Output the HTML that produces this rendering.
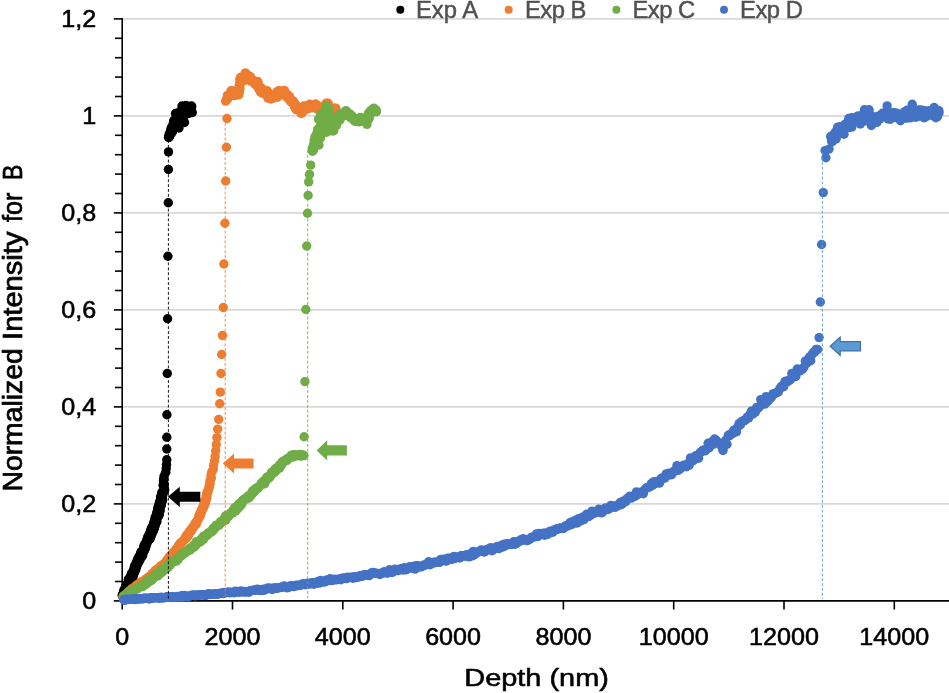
<!DOCTYPE html>
<html><head><meta charset="utf-8"><title>Chart</title>
<style>
html,body{margin:0;padding:0;background:#fff;}
body{width:949px;height:693px;position:relative;overflow:hidden;font-family:"Liberation Sans",sans-serif;}
</style></head><body>
<svg width="949" height="693" viewBox="0 0 949 693" style="position:absolute;left:0;top:0;display:block;opacity:0.999;will-change:transform"><rect width="949" height="693" fill="#fff"/><g stroke="#d9d9d9" stroke-width="1.6"><line x1="122.2" y1="503.9" x2="949" y2="503.9"/><line x1="122.2" y1="406.9" x2="949" y2="406.9"/><line x1="122.2" y1="309.9" x2="949" y2="309.9"/><line x1="122.2" y1="212.9" x2="949" y2="212.9"/><line x1="122.2" y1="115.9" x2="949" y2="115.9"/><line x1="122.2" y1="18.9" x2="949" y2="18.9"/></g><g stroke="#000" stroke-width="1.6"><line x1="122.2" y1="18.1" x2="122.2" y2="601.7"/><line x1="121.4" y1="600.9" x2="949" y2="600.9"/><line x1="113.8" y1="600.9" x2="122.2" y2="600.9"/><line x1="115.0" y1="581.5" x2="122.2" y2="581.5"/><line x1="115.0" y1="562.1" x2="122.2" y2="562.1"/><line x1="115.0" y1="542.7" x2="122.2" y2="542.7"/><line x1="115.0" y1="523.3" x2="122.2" y2="523.3"/><line x1="113.8" y1="503.9" x2="122.2" y2="503.9"/><line x1="115.0" y1="484.5" x2="122.2" y2="484.5"/><line x1="115.0" y1="465.1" x2="122.2" y2="465.1"/><line x1="115.0" y1="445.7" x2="122.2" y2="445.7"/><line x1="115.0" y1="426.3" x2="122.2" y2="426.3"/><line x1="113.8" y1="406.9" x2="122.2" y2="406.9"/><line x1="115.0" y1="387.5" x2="122.2" y2="387.5"/><line x1="115.0" y1="368.1" x2="122.2" y2="368.1"/><line x1="115.0" y1="348.7" x2="122.2" y2="348.7"/><line x1="115.0" y1="329.3" x2="122.2" y2="329.3"/><line x1="113.8" y1="309.9" x2="122.2" y2="309.9"/><line x1="115.0" y1="290.5" x2="122.2" y2="290.5"/><line x1="115.0" y1="271.1" x2="122.2" y2="271.1"/><line x1="115.0" y1="251.7" x2="122.2" y2="251.7"/><line x1="115.0" y1="232.3" x2="122.2" y2="232.3"/><line x1="113.8" y1="212.9" x2="122.2" y2="212.9"/><line x1="115.0" y1="193.5" x2="122.2" y2="193.5"/><line x1="115.0" y1="174.1" x2="122.2" y2="174.1"/><line x1="115.0" y1="154.7" x2="122.2" y2="154.7"/><line x1="115.0" y1="135.3" x2="122.2" y2="135.3"/><line x1="113.8" y1="115.9" x2="122.2" y2="115.9"/><line x1="115.0" y1="96.5" x2="122.2" y2="96.5"/><line x1="115.0" y1="77.1" x2="122.2" y2="77.1"/><line x1="115.0" y1="57.7" x2="122.2" y2="57.7"/><line x1="115.0" y1="38.3" x2="122.2" y2="38.3"/><line x1="113.8" y1="18.9" x2="122.2" y2="18.9"/><line x1="122.2" y1="600.9" x2="122.2" y2="609.5"/><line x1="232.5" y1="600.9" x2="232.5" y2="609.5"/><line x1="342.8" y1="600.9" x2="342.8" y2="609.5"/><line x1="453.1" y1="600.9" x2="453.1" y2="609.5"/><line x1="563.4" y1="600.9" x2="563.4" y2="609.5"/><line x1="673.7" y1="600.9" x2="673.7" y2="609.5"/><line x1="784.0" y1="600.9" x2="784.0" y2="609.5"/><line x1="894.3" y1="600.9" x2="894.3" y2="609.5"/></g><g fill="#000000"><circle cx="123.2" cy="596.5" r="4.7"/><circle cx="123.8" cy="596.0" r="4.7"/><circle cx="123.9" cy="596.2" r="4.7"/><circle cx="122.2" cy="595.2" r="4.7"/><circle cx="123.9" cy="594.4" r="4.7"/><circle cx="124.5" cy="594.4" r="4.7"/><circle cx="122.9" cy="593.9" r="4.7"/><circle cx="124.5" cy="593.2" r="4.7"/><circle cx="125.0" cy="593.5" r="4.7"/><circle cx="124.3" cy="593.2" r="4.7"/><circle cx="124.5" cy="592.3" r="4.7"/><circle cx="125.4" cy="592.7" r="4.7"/><circle cx="125.5" cy="591.2" r="4.7"/><circle cx="123.6" cy="590.9" r="4.7"/><circle cx="125.8" cy="590.4" r="4.7"/><circle cx="125.7" cy="589.7" r="4.7"/><circle cx="125.4" cy="590.0" r="4.7"/><circle cx="126.4" cy="589.9" r="4.7"/><circle cx="125.7" cy="588.4" r="4.7"/><circle cx="126.3" cy="588.9" r="4.7"/><circle cx="126.3" cy="588.5" r="4.7"/><circle cx="125.1" cy="588.3" r="4.7"/><circle cx="125.4" cy="587.3" r="4.7"/><circle cx="125.8" cy="586.4" r="4.7"/><circle cx="127.4" cy="586.9" r="4.7"/><circle cx="127.2" cy="586.8" r="4.7"/><circle cx="128.1" cy="586.3" r="4.7"/><circle cx="127.4" cy="585.9" r="4.7"/><circle cx="126.5" cy="585.0" r="4.7"/><circle cx="128.4" cy="585.0" r="4.7"/><circle cx="129.1" cy="584.3" r="4.7"/><circle cx="126.7" cy="584.2" r="4.7"/><circle cx="129.0" cy="583.5" r="4.7"/><circle cx="129.9" cy="582.5" r="4.7"/><circle cx="128.4" cy="582.3" r="4.7"/><circle cx="129.5" cy="582.7" r="4.7"/><circle cx="129.9" cy="582.0" r="4.7"/><circle cx="129.6" cy="581.4" r="4.7"/><circle cx="128.9" cy="580.6" r="4.7"/><circle cx="128.3" cy="579.9" r="4.7"/><circle cx="128.7" cy="580.0" r="4.7"/><circle cx="128.6" cy="579.4" r="4.7"/><circle cx="129.4" cy="579.4" r="4.7"/><circle cx="130.5" cy="578.9" r="4.7"/><circle cx="129.3" cy="578.4" r="4.7"/><circle cx="130.4" cy="577.9" r="4.7"/><circle cx="130.4" cy="578.4" r="4.7"/><circle cx="132.8" cy="577.4" r="4.7"/><circle cx="130.9" cy="577.6" r="4.7"/><circle cx="130.7" cy="576.5" r="4.7"/><circle cx="131.3" cy="576.1" r="4.7"/><circle cx="131.5" cy="575.4" r="4.7"/><circle cx="133.4" cy="575.5" r="4.7"/><circle cx="131.2" cy="575.4" r="4.7"/><circle cx="131.9" cy="574.0" r="4.7"/><circle cx="131.5" cy="574.4" r="4.7"/><circle cx="131.7" cy="573.1" r="4.7"/><circle cx="132.9" cy="573.0" r="4.7"/><circle cx="134.0" cy="573.0" r="4.7"/><circle cx="133.1" cy="572.9" r="4.7"/><circle cx="134.3" cy="572.7" r="4.7"/><circle cx="133.6" cy="571.6" r="4.7"/><circle cx="134.0" cy="571.6" r="4.7"/><circle cx="135.2" cy="570.6" r="4.7"/><circle cx="135.7" cy="569.8" r="4.7"/><circle cx="133.7" cy="569.9" r="4.7"/><circle cx="135.5" cy="569.6" r="4.7"/><circle cx="134.2" cy="568.4" r="4.7"/><circle cx="134.7" cy="568.0" r="4.7"/><circle cx="135.3" cy="567.8" r="4.7"/><circle cx="136.2" cy="567.6" r="4.7"/><circle cx="135.1" cy="567.2" r="4.7"/><circle cx="134.5" cy="566.6" r="4.7"/><circle cx="134.8" cy="566.1" r="4.7"/><circle cx="136.3" cy="565.8" r="4.7"/><circle cx="135.7" cy="565.3" r="4.7"/><circle cx="136.7" cy="566.0" r="4.7"/><circle cx="136.6" cy="564.7" r="4.7"/><circle cx="135.6" cy="565.0" r="4.7"/><circle cx="135.8" cy="564.6" r="4.7"/><circle cx="137.7" cy="564.1" r="4.7"/><circle cx="136.1" cy="563.9" r="4.7"/><circle cx="138.2" cy="562.8" r="4.7"/><circle cx="136.6" cy="561.9" r="4.7"/><circle cx="138.2" cy="562.3" r="4.7"/><circle cx="137.1" cy="562.2" r="4.7"/><circle cx="139.3" cy="560.9" r="4.7"/><circle cx="138.3" cy="561.4" r="4.7"/><circle cx="138.0" cy="559.9" r="4.7"/><circle cx="137.5" cy="560.4" r="4.7"/><circle cx="137.8" cy="559.3" r="4.7"/><circle cx="140.1" cy="559.8" r="4.7"/><circle cx="138.1" cy="559.4" r="4.7"/><circle cx="140.0" cy="558.4" r="4.7"/><circle cx="138.3" cy="557.7" r="4.7"/><circle cx="140.1" cy="557.5" r="4.7"/><circle cx="140.8" cy="556.5" r="4.7"/><circle cx="139.4" cy="556.5" r="4.7"/><circle cx="140.6" cy="556.1" r="4.7"/><circle cx="139.7" cy="555.8" r="4.7"/><circle cx="142.4" cy="556.0" r="4.7"/><circle cx="140.8" cy="555.1" r="4.7"/><circle cx="140.4" cy="555.3" r="4.7"/><circle cx="142.6" cy="554.9" r="4.7"/><circle cx="142.1" cy="553.4" r="4.7"/><circle cx="140.8" cy="553.7" r="4.7"/><circle cx="142.9" cy="553.6" r="4.7"/><circle cx="140.9" cy="552.9" r="4.7"/><circle cx="141.1" cy="551.9" r="4.7"/><circle cx="141.5" cy="551.7" r="4.7"/><circle cx="143.8" cy="550.9" r="4.7"/><circle cx="143.2" cy="551.6" r="4.7"/><circle cx="144.5" cy="550.2" r="4.7"/><circle cx="143.9" cy="550.7" r="4.7"/><circle cx="143.5" cy="550.4" r="4.7"/><circle cx="143.6" cy="549.4" r="4.7"/><circle cx="143.9" cy="549.2" r="4.7"/><circle cx="144.4" cy="548.5" r="4.7"/><circle cx="145.5" cy="548.0" r="4.7"/><circle cx="144.6" cy="548.1" r="4.7"/><circle cx="145.5" cy="547.3" r="4.7"/><circle cx="144.1" cy="546.6" r="4.7"/><circle cx="143.8" cy="546.6" r="4.7"/><circle cx="145.4" cy="546.5" r="4.7"/><circle cx="144.9" cy="545.7" r="4.7"/><circle cx="146.3" cy="545.3" r="4.7"/><circle cx="144.8" cy="544.8" r="4.7"/><circle cx="144.5" cy="544.9" r="4.7"/><circle cx="146.0" cy="543.6" r="4.7"/><circle cx="146.4" cy="542.9" r="4.7"/><circle cx="146.5" cy="543.3" r="4.7"/><circle cx="146.5" cy="543.4" r="4.7"/><circle cx="147.1" cy="543.0" r="4.7"/><circle cx="146.6" cy="541.9" r="4.7"/><circle cx="146.1" cy="542.1" r="4.7"/><circle cx="146.7" cy="541.0" r="4.7"/><circle cx="146.8" cy="540.9" r="4.7"/><circle cx="147.0" cy="540.0" r="4.7"/><circle cx="148.9" cy="539.5" r="4.7"/><circle cx="147.9" cy="540.0" r="4.7"/><circle cx="148.4" cy="539.7" r="4.7"/><circle cx="149.9" cy="538.9" r="4.7"/><circle cx="147.6" cy="537.6" r="4.7"/><circle cx="148.4" cy="537.9" r="4.7"/><circle cx="150.5" cy="537.6" r="4.7"/><circle cx="148.1" cy="537.5" r="4.7"/><circle cx="150.6" cy="537.0" r="4.7"/><circle cx="148.4" cy="535.7" r="4.7"/><circle cx="150.4" cy="535.3" r="4.7"/><circle cx="149.6" cy="536.0" r="4.7"/><circle cx="151.5" cy="534.8" r="4.7"/><circle cx="149.7" cy="534.9" r="4.7"/><circle cx="149.5" cy="534.5" r="4.7"/><circle cx="151.4" cy="533.7" r="4.7"/><circle cx="152.0" cy="533.7" r="4.7"/><circle cx="149.7" cy="533.1" r="4.7"/><circle cx="151.6" cy="532.9" r="4.7"/><circle cx="152.3" cy="532.0" r="4.7"/><circle cx="151.8" cy="532.2" r="4.7"/><circle cx="150.7" cy="530.8" r="4.7"/><circle cx="151.0" cy="530.4" r="4.7"/><circle cx="153.4" cy="530.2" r="4.7"/><circle cx="153.5" cy="530.6" r="4.7"/><circle cx="153.7" cy="529.5" r="4.7"/><circle cx="151.8" cy="529.4" r="4.7"/><circle cx="151.3" cy="528.4" r="4.7"/><circle cx="152.4" cy="527.6" r="4.7"/><circle cx="152.2" cy="527.9" r="4.7"/><circle cx="154.2" cy="527.8" r="4.7"/><circle cx="154.4" cy="527.5" r="4.7"/><circle cx="154.5" cy="527.3" r="4.7"/><circle cx="153.2" cy="525.8" r="4.7"/><circle cx="154.0" cy="526.2" r="4.7"/><circle cx="153.1" cy="525.8" r="4.7"/><circle cx="153.5" cy="524.8" r="4.7"/><circle cx="155.5" cy="524.8" r="4.7"/><circle cx="154.7" cy="524.8" r="4.7"/><circle cx="154.9" cy="523.1" r="4.7"/><circle cx="155.0" cy="522.8" r="4.7"/><circle cx="153.6" cy="523.5" r="4.7"/><circle cx="156.2" cy="522.0" r="4.7"/><circle cx="154.9" cy="521.7" r="4.7"/><circle cx="154.3" cy="521.1" r="4.7"/><circle cx="155.6" cy="521.2" r="4.7"/><circle cx="156.9" cy="521.5" r="4.7"/><circle cx="155.6" cy="519.8" r="4.7"/><circle cx="155.5" cy="519.7" r="4.7"/><circle cx="156.7" cy="519.0" r="4.7"/><circle cx="155.0" cy="519.6" r="4.7"/><circle cx="155.4" cy="518.5" r="4.7"/><circle cx="155.2" cy="517.7" r="4.7"/><circle cx="156.3" cy="517.2" r="4.7"/><circle cx="156.1" cy="516.9" r="4.7"/><circle cx="155.8" cy="516.3" r="4.7"/><circle cx="156.0" cy="516.7" r="4.7"/><circle cx="157.0" cy="515.9" r="4.7"/><circle cx="158.6" cy="516.0" r="4.7"/><circle cx="158.8" cy="515.6" r="4.7"/><circle cx="158.2" cy="514.1" r="4.7"/><circle cx="157.9" cy="514.5" r="4.7"/><circle cx="159.3" cy="514.2" r="4.7"/><circle cx="157.7" cy="513.6" r="4.7"/><circle cx="156.7" cy="512.9" r="4.7"/><circle cx="158.6" cy="512.3" r="4.7"/><circle cx="157.6" cy="512.1" r="4.7"/><circle cx="157.5" cy="511.3" r="4.7"/><circle cx="160.0" cy="510.8" r="4.7"/><circle cx="158.3" cy="511.4" r="4.7"/><circle cx="158.2" cy="510.3" r="4.7"/><circle cx="159.9" cy="510.5" r="4.7"/><circle cx="159.2" cy="510.1" r="4.7"/><circle cx="157.9" cy="509.0" r="4.7"/><circle cx="158.9" cy="509.2" r="4.7"/><circle cx="158.2" cy="507.9" r="4.7"/><circle cx="158.1" cy="508.2" r="4.7"/><circle cx="158.6" cy="506.8" r="4.7"/><circle cx="158.2" cy="506.9" r="4.7"/><circle cx="159.4" cy="506.7" r="4.7"/><circle cx="160.9" cy="505.7" r="4.7"/><circle cx="160.4" cy="506.3" r="4.7"/><circle cx="158.8" cy="505.4" r="4.7"/><circle cx="160.1" cy="504.9" r="4.7"/><circle cx="161.3" cy="504.9" r="4.7"/><circle cx="160.7" cy="503.8" r="4.7"/><circle cx="161.1" cy="503.5" r="4.7"/><circle cx="161.7" cy="502.7" r="4.7"/><circle cx="161.5" cy="502.6" r="4.7"/><circle cx="159.4" cy="502.3" r="4.7"/><circle cx="159.9" cy="501.6" r="4.7"/><circle cx="160.8" cy="501.6" r="4.7"/><circle cx="162.6" cy="500.2" r="4.7"/><circle cx="161.9" cy="500.0" r="4.7"/><circle cx="161.4" cy="500.4" r="4.7"/><circle cx="160.7" cy="499.6" r="4.7"/><circle cx="162.4" cy="499.3" r="4.7"/><circle cx="161.5" cy="498.3" r="4.7"/><circle cx="161.2" cy="498.3" r="4.7"/><circle cx="162.4" cy="497.5" r="4.7"/><circle cx="160.6" cy="496.7" r="4.7"/><circle cx="162.3" cy="495.8" r="4.7"/><circle cx="162.7" cy="495.5" r="4.7"/><circle cx="161.5" cy="495.0" r="4.7"/><circle cx="162.1" cy="494.5" r="4.7"/><circle cx="161.8" cy="492.5" r="4.7"/><circle cx="164.1" cy="491.6" r="4.7"/><circle cx="164.7" cy="489.9" r="4.7"/><circle cx="163.8" cy="489.0" r="4.7"/><circle cx="164.3" cy="488.1" r="4.7"/><circle cx="163.1" cy="485.3" r="4.7"/><circle cx="164.3" cy="484.1" r="4.7"/><circle cx="163.5" cy="480.7" r="4.7"/><circle cx="163.7" cy="478.6" r="4.7"/><circle cx="164.2" cy="475.7" r="4.7"/><circle cx="165.8" cy="472.3" r="4.7"/><circle cx="166.2" cy="468.5" r="4.7"/><circle cx="166.5" cy="464.5" r="4.7"/><circle cx="166.8" cy="459.7" r="4.7"/><circle cx="166.8" cy="449.0" r="4.7"/><circle cx="166.8" cy="437.2" r="4.7"/><circle cx="166.9" cy="414.7" r="4.7"/><circle cx="167.3" cy="373.5" r="4.7"/><circle cx="167.6" cy="318.8" r="4.7"/><circle cx="167.9" cy="256.3" r="4.7"/><circle cx="168.3" cy="202.7" r="4.7"/><circle cx="168.4" cy="169.5" r="4.7"/><circle cx="168.5" cy="151.9" r="4.7"/><circle cx="168.9" cy="137.5" r="4.7"/><circle cx="168.6" cy="137.3" r="4.7"/><circle cx="169.0" cy="137.0" r="4.7"/><circle cx="169.6" cy="135.9" r="4.7"/><circle cx="169.1" cy="135.3" r="4.7"/><circle cx="170.0" cy="135.5" r="4.7"/><circle cx="169.3" cy="134.0" r="4.7"/><circle cx="170.2" cy="134.4" r="4.7"/><circle cx="170.1" cy="133.3" r="4.7"/><circle cx="170.7" cy="132.4" r="4.7"/><circle cx="170.2" cy="132.8" r="4.7"/><circle cx="171.8" cy="132.7" r="4.7"/><circle cx="171.8" cy="131.8" r="4.7"/><circle cx="170.5" cy="130.8" r="4.7"/><circle cx="172.5" cy="131.5" r="4.7"/><circle cx="171.0" cy="129.3" r="4.7"/><circle cx="171.7" cy="130.5" r="4.7"/><circle cx="171.7" cy="128.9" r="4.7"/><circle cx="172.7" cy="130.4" r="4.7"/><circle cx="171.5" cy="127.3" r="4.7"/><circle cx="172.1" cy="128.1" r="4.7"/><circle cx="173.4" cy="126.9" r="4.7"/><circle cx="174.1" cy="128.3" r="4.7"/><circle cx="173.3" cy="126.0" r="4.7"/><circle cx="175.2" cy="125.9" r="4.7"/><circle cx="174.9" cy="125.1" r="4.7"/><circle cx="172.8" cy="126.7" r="4.7"/><circle cx="173.3" cy="127.1" r="4.7"/><circle cx="174.3" cy="123.5" r="4.7"/><circle cx="173.4" cy="124.0" r="4.7"/><circle cx="175.5" cy="125.9" r="4.7"/><circle cx="173.4" cy="123.0" r="4.7"/><circle cx="174.0" cy="125.3" r="4.7"/><circle cx="173.9" cy="120.5" r="4.7"/><circle cx="173.7" cy="121.7" r="4.7"/><circle cx="178.1" cy="123.7" r="4.7"/><circle cx="177.6" cy="123.9" r="4.7"/><circle cx="179.0" cy="120.0" r="4.7"/><circle cx="175.3" cy="122.8" r="4.7"/><circle cx="178.6" cy="117.5" r="4.7"/><circle cx="178.5" cy="119.0" r="4.7"/><circle cx="177.2" cy="118.3" r="4.7"/><circle cx="176.3" cy="116.0" r="4.7"/><circle cx="177.2" cy="117.5" r="4.7"/><circle cx="181.3" cy="115.8" r="4.7"/><circle cx="181.6" cy="115.9" r="4.7"/><circle cx="178.6" cy="118.9" r="4.7"/><circle cx="181.5" cy="116.4" r="4.7"/><circle cx="177.6" cy="116.3" r="4.7"/><circle cx="179.7" cy="118.4" r="4.7"/><circle cx="179.1" cy="114.9" r="4.7"/><circle cx="183.4" cy="112.7" r="4.7"/><circle cx="181.0" cy="116.7" r="4.7"/><circle cx="183.4" cy="112.0" r="4.7"/><circle cx="179.7" cy="111.8" r="4.7"/><circle cx="185.0" cy="112.5" r="4.7"/><circle cx="184.4" cy="115.7" r="4.7"/><circle cx="182.5" cy="111.9" r="4.7"/><circle cx="186.4" cy="113.6" r="4.7"/><circle cx="182.9" cy="113.8" r="4.7"/><circle cx="183.6" cy="111.0" r="4.7"/><circle cx="182.2" cy="113.4" r="4.7"/><circle cx="187.7" cy="112.5" r="4.7"/><circle cx="188.3" cy="108.7" r="4.7"/><circle cx="184.7" cy="111.0" r="4.7"/><circle cx="189.2" cy="113.3" r="4.7"/><circle cx="186.4" cy="109.1" r="4.7"/><circle cx="187.1" cy="110.3" r="4.7"/><circle cx="190.3" cy="108.3" r="4.7"/><circle cx="190.0" cy="111.3" r="4.7"/><circle cx="190.6" cy="111.3" r="4.7"/><circle cx="189.8" cy="108.6" r="4.7"/><circle cx="188.7" cy="108.6" r="4.7"/><circle cx="191.7" cy="106.8" r="4.7"/><circle cx="188.9" cy="110.4" r="4.7"/><circle cx="189.6" cy="106.4" r="4.7"/><circle cx="184.5" cy="122.5" r="4.7"/><circle cx="179.0" cy="128.0" r="4.7"/><circle cx="182.0" cy="106.0" r="4.7"/><circle cx="191.5" cy="106.0" r="4.7"/><circle cx="192.3" cy="112.5" r="4.7"/><circle cx="186.0" cy="105.5" r="4.7"/><circle cx="175.5" cy="113.5" r="4.7"/></g>
<g fill="#ED7D31"><circle cx="123.3" cy="597.0" r="4.7"/><circle cx="123.2" cy="596.9" r="4.7"/><circle cx="124.5" cy="595.4" r="4.7"/><circle cx="124.6" cy="595.2" r="4.7"/><circle cx="125.7" cy="595.1" r="4.7"/><circle cx="127.6" cy="594.2" r="4.7"/><circle cx="127.8" cy="593.0" r="4.7"/><circle cx="128.5" cy="592.2" r="4.7"/><circle cx="128.3" cy="592.0" r="4.7"/><circle cx="129.7" cy="590.8" r="4.7"/><circle cx="131.2" cy="591.0" r="4.7"/><circle cx="130.8" cy="590.2" r="4.7"/><circle cx="131.8" cy="588.8" r="4.7"/><circle cx="132.5" cy="589.4" r="4.7"/><circle cx="134.0" cy="588.1" r="4.7"/><circle cx="134.8" cy="587.1" r="4.7"/><circle cx="135.0" cy="587.1" r="4.7"/><circle cx="135.6" cy="586.1" r="4.7"/><circle cx="136.3" cy="585.5" r="4.7"/><circle cx="138.1" cy="584.4" r="4.7"/><circle cx="138.1" cy="584.2" r="4.7"/><circle cx="139.6" cy="584.7" r="4.7"/><circle cx="140.6" cy="583.4" r="4.7"/><circle cx="140.5" cy="582.4" r="4.7"/><circle cx="141.8" cy="581.6" r="4.7"/><circle cx="143.0" cy="582.1" r="4.7"/><circle cx="143.9" cy="582.1" r="4.7"/><circle cx="145.0" cy="580.3" r="4.7"/><circle cx="145.7" cy="579.4" r="4.7"/><circle cx="145.9" cy="578.9" r="4.7"/><circle cx="146.6" cy="579.2" r="4.7"/><circle cx="148.3" cy="578.2" r="4.7"/><circle cx="148.8" cy="577.1" r="4.7"/><circle cx="149.3" cy="576.6" r="4.7"/><circle cx="149.2" cy="576.9" r="4.7"/><circle cx="150.7" cy="576.1" r="4.7"/><circle cx="151.9" cy="574.9" r="4.7"/><circle cx="152.3" cy="574.0" r="4.7"/><circle cx="152.2" cy="573.6" r="4.7"/><circle cx="153.1" cy="573.4" r="4.7"/><circle cx="154.7" cy="572.9" r="4.7"/><circle cx="154.6" cy="572.3" r="4.7"/><circle cx="155.2" cy="570.4" r="4.7"/><circle cx="156.7" cy="570.0" r="4.7"/><circle cx="156.9" cy="569.3" r="4.7"/><circle cx="158.1" cy="569.6" r="4.7"/><circle cx="159.4" cy="567.7" r="4.7"/><circle cx="160.2" cy="567.2" r="4.7"/><circle cx="160.8" cy="566.4" r="4.7"/><circle cx="160.4" cy="566.0" r="4.7"/><circle cx="162.3" cy="566.3" r="4.7"/><circle cx="163.2" cy="564.4" r="4.7"/><circle cx="163.3" cy="564.9" r="4.7"/><circle cx="163.5" cy="564.3" r="4.7"/><circle cx="165.1" cy="563.3" r="4.7"/><circle cx="166.0" cy="562.9" r="4.7"/><circle cx="166.8" cy="560.8" r="4.7"/><circle cx="166.8" cy="560.5" r="4.7"/><circle cx="167.5" cy="559.3" r="4.7"/><circle cx="168.6" cy="559.7" r="4.7"/><circle cx="169.1" cy="557.8" r="4.7"/><circle cx="169.5" cy="557.0" r="4.7"/><circle cx="169.5" cy="556.9" r="4.7"/><circle cx="170.2" cy="556.1" r="4.7"/><circle cx="171.4" cy="554.8" r="4.7"/><circle cx="172.0" cy="554.1" r="4.7"/><circle cx="173.1" cy="554.3" r="4.7"/><circle cx="173.3" cy="552.7" r="4.7"/><circle cx="173.2" cy="552.5" r="4.7"/><circle cx="174.5" cy="551.4" r="4.7"/><circle cx="175.1" cy="551.0" r="4.7"/><circle cx="175.7" cy="550.1" r="4.7"/><circle cx="176.6" cy="548.9" r="4.7"/><circle cx="177.2" cy="548.5" r="4.7"/><circle cx="178.2" cy="547.0" r="4.7"/><circle cx="178.7" cy="546.1" r="4.7"/><circle cx="178.2" cy="546.1" r="4.7"/><circle cx="179.9" cy="545.9" r="4.7"/><circle cx="179.5" cy="544.0" r="4.7"/><circle cx="180.8" cy="543.5" r="4.7"/><circle cx="180.9" cy="542.7" r="4.7"/><circle cx="182.5" cy="541.6" r="4.7"/><circle cx="182.5" cy="541.9" r="4.7"/><circle cx="183.7" cy="540.1" r="4.7"/><circle cx="184.4" cy="539.2" r="4.7"/><circle cx="185.2" cy="539.2" r="4.7"/><circle cx="185.8" cy="538.0" r="4.7"/><circle cx="185.7" cy="536.7" r="4.7"/><circle cx="187.1" cy="537.4" r="4.7"/><circle cx="186.5" cy="535.2" r="4.7"/><circle cx="188.1" cy="535.8" r="4.7"/><circle cx="187.6" cy="534.3" r="4.7"/><circle cx="188.9" cy="534.2" r="4.7"/><circle cx="188.9" cy="532.3" r="4.7"/><circle cx="189.8" cy="531.9" r="4.7"/><circle cx="189.9" cy="531.2" r="4.7"/><circle cx="191.4" cy="530.9" r="4.7"/><circle cx="190.9" cy="529.5" r="4.7"/><circle cx="192.2" cy="528.0" r="4.7"/><circle cx="192.7" cy="528.4" r="4.7"/><circle cx="193.3" cy="527.4" r="4.7"/><circle cx="193.2" cy="526.7" r="4.7"/><circle cx="194.9" cy="524.8" r="4.7"/><circle cx="194.9" cy="523.9" r="4.7"/><circle cx="196.2" cy="524.4" r="4.7"/><circle cx="195.9" cy="522.6" r="4.7"/><circle cx="196.4" cy="522.0" r="4.7"/><circle cx="197.0" cy="521.8" r="4.7"/><circle cx="197.7" cy="519.9" r="4.7"/><circle cx="197.7" cy="519.7" r="4.7"/><circle cx="198.9" cy="517.8" r="4.7"/><circle cx="198.9" cy="517.6" r="4.7"/><circle cx="198.8" cy="516.0" r="4.7"/><circle cx="200.3" cy="515.8" r="4.7"/><circle cx="200.0" cy="514.3" r="4.7"/><circle cx="200.9" cy="513.4" r="4.7"/><circle cx="200.2" cy="512.7" r="4.7"/><circle cx="201.6" cy="511.5" r="4.7"/><circle cx="201.4" cy="511.2" r="4.7"/><circle cx="201.6" cy="509.7" r="4.7"/><circle cx="202.0" cy="509.0" r="4.7"/><circle cx="203.0" cy="508.5" r="4.7"/><circle cx="203.8" cy="506.7" r="4.7"/><circle cx="203.0" cy="506.8" r="4.7"/><circle cx="204.3" cy="505.3" r="4.7"/><circle cx="204.7" cy="504.3" r="4.7"/><circle cx="205.1" cy="503.6" r="4.7"/><circle cx="204.0" cy="502.1" r="4.7"/><circle cx="204.2" cy="501.3" r="4.7"/><circle cx="205.8" cy="501.3" r="4.7"/><circle cx="205.5" cy="500.2" r="4.7"/><circle cx="206.6" cy="498.1" r="4.7"/><circle cx="206.6" cy="498.0" r="4.7"/><circle cx="206.4" cy="496.4" r="4.7"/><circle cx="206.4" cy="496.6" r="4.7"/><circle cx="207.0" cy="494.6" r="4.7"/><circle cx="206.6" cy="494.5" r="4.7"/><circle cx="207.0" cy="492.4" r="4.7"/><circle cx="208.1" cy="491.1" r="4.7"/><circle cx="208.2" cy="490.1" r="4.7"/><circle cx="209.0" cy="488.5" r="4.7"/><circle cx="209.1" cy="486.5" r="4.7"/><circle cx="209.7" cy="485.8" r="4.7"/><circle cx="210.0" cy="483.5" r="4.7"/><circle cx="210.0" cy="480.9" r="4.7"/><circle cx="211.3" cy="478.4" r="4.7"/><circle cx="210.9" cy="475.6" r="4.7"/><circle cx="211.8" cy="471.8" r="4.7"/><circle cx="213.3" cy="469.5" r="4.7"/><circle cx="213.6" cy="465.4" r="4.7"/><circle cx="214.6" cy="460.8" r="4.7"/><circle cx="215.1" cy="456.4" r="4.7"/><circle cx="215.7" cy="450.7" r="4.7"/><circle cx="216.3" cy="444.6" r="4.7"/><circle cx="216.9" cy="437.6" r="4.7"/><circle cx="217.7" cy="429.1" r="4.7"/><circle cx="218.7" cy="419.4" r="4.7"/><circle cx="219.7" cy="403.8" r="4.7"/><circle cx="220.3" cy="392.1" r="4.7"/><circle cx="221.0" cy="373.5" r="4.7"/><circle cx="221.7" cy="354.5" r="4.7"/><circle cx="222.5" cy="335.5" r="4.7"/><circle cx="223.3" cy="307.5" r="4.7"/><circle cx="223.9" cy="264.0" r="4.7"/><circle cx="224.9" cy="223.2" r="4.7"/><circle cx="225.7" cy="181.0" r="4.7"/><circle cx="226.4" cy="147.2" r="4.7"/><circle cx="227.0" cy="118.5" r="4.7"/><circle cx="225.6" cy="101.1" r="4.7"/><circle cx="228.1" cy="97.6" r="4.7"/><circle cx="226.5" cy="99.9" r="4.7"/><circle cx="227.5" cy="99.3" r="4.7"/><circle cx="228.4" cy="95.4" r="4.7"/><circle cx="227.4" cy="95.4" r="4.7"/><circle cx="227.0" cy="98.5" r="4.7"/><circle cx="229.0" cy="96.5" r="4.7"/><circle cx="227.9" cy="97.1" r="4.7"/><circle cx="230.5" cy="94.2" r="4.7"/><circle cx="231.2" cy="93.8" r="4.7"/><circle cx="230.8" cy="91.2" r="4.7"/><circle cx="231.6" cy="90.5" r="4.7"/><circle cx="232.6" cy="94.8" r="4.7"/><circle cx="234.3" cy="95.6" r="4.7"/><circle cx="235.1" cy="92.0" r="4.7"/><circle cx="235.5" cy="93.3" r="4.7"/><circle cx="236.9" cy="94.0" r="4.7"/><circle cx="236.4" cy="95.0" r="4.7"/><circle cx="238.9" cy="92.3" r="4.7"/><circle cx="238.9" cy="90.2" r="4.7"/><circle cx="237.5" cy="90.9" r="4.7"/><circle cx="238.9" cy="94.8" r="4.7"/><circle cx="239.0" cy="89.9" r="4.7"/><circle cx="239.5" cy="89.1" r="4.7"/><circle cx="238.1" cy="92.1" r="4.7"/><circle cx="239.2" cy="89.9" r="4.7"/><circle cx="239.5" cy="91.0" r="4.7"/><circle cx="239.2" cy="89.3" r="4.7"/><circle cx="239.9" cy="88.6" r="4.7"/><circle cx="239.4" cy="87.0" r="4.7"/><circle cx="239.9" cy="83.4" r="4.7"/><circle cx="239.3" cy="84.8" r="4.7"/><circle cx="239.3" cy="86.0" r="4.7"/><circle cx="239.8" cy="79.5" r="4.7"/><circle cx="240.0" cy="84.8" r="4.7"/><circle cx="240.9" cy="78.9" r="4.7"/><circle cx="240.4" cy="77.5" r="4.7"/><circle cx="242.3" cy="80.8" r="4.7"/><circle cx="242.7" cy="80.8" r="4.7"/><circle cx="241.5" cy="79.1" r="4.7"/><circle cx="242.8" cy="80.2" r="4.7"/><circle cx="244.5" cy="80.2" r="4.7"/><circle cx="243.4" cy="79.7" r="4.7"/><circle cx="246.0" cy="79.8" r="4.7"/><circle cx="244.7" cy="74.5" r="4.7"/><circle cx="245.4" cy="72.9" r="4.7"/><circle cx="247.8" cy="78.6" r="4.7"/><circle cx="248.0" cy="79.1" r="4.7"/><circle cx="248.6" cy="76.1" r="4.7"/><circle cx="248.0" cy="75.3" r="4.7"/><circle cx="250.3" cy="76.6" r="4.7"/><circle cx="249.9" cy="78.5" r="4.7"/><circle cx="249.9" cy="77.9" r="4.7"/><circle cx="251.2" cy="81.4" r="4.7"/><circle cx="252.1" cy="79.3" r="4.7"/><circle cx="254.2" cy="81.0" r="4.7"/><circle cx="254.6" cy="82.3" r="4.7"/><circle cx="253.3" cy="81.4" r="4.7"/><circle cx="255.0" cy="84.3" r="4.7"/><circle cx="255.4" cy="84.4" r="4.7"/><circle cx="256.4" cy="81.7" r="4.7"/><circle cx="257.7" cy="81.5" r="4.7"/><circle cx="258.1" cy="82.7" r="4.7"/><circle cx="256.7" cy="83.5" r="4.7"/><circle cx="259.0" cy="89.2" r="4.7"/><circle cx="257.7" cy="86.6" r="4.7"/><circle cx="259.4" cy="89.2" r="4.7"/><circle cx="259.2" cy="87.9" r="4.7"/><circle cx="260.1" cy="90.7" r="4.7"/><circle cx="260.5" cy="92.0" r="4.7"/><circle cx="261.2" cy="87.8" r="4.7"/><circle cx="262.8" cy="90.3" r="4.7"/><circle cx="262.0" cy="91.8" r="4.7"/><circle cx="262.5" cy="93.3" r="4.7"/><circle cx="264.6" cy="93.9" r="4.7"/><circle cx="265.0" cy="91.7" r="4.7"/><circle cx="265.1" cy="92.5" r="4.7"/><circle cx="266.8" cy="90.9" r="4.7"/><circle cx="267.4" cy="91.0" r="4.7"/><circle cx="266.4" cy="93.1" r="4.7"/><circle cx="268.6" cy="95.1" r="4.7"/><circle cx="267.9" cy="98.1" r="4.7"/><circle cx="268.2" cy="95.8" r="4.7"/><circle cx="269.5" cy="98.2" r="4.7"/><circle cx="270.6" cy="98.0" r="4.7"/><circle cx="270.5" cy="95.7" r="4.7"/><circle cx="270.8" cy="99.0" r="4.7"/><circle cx="272.8" cy="98.2" r="4.7"/><circle cx="272.5" cy="96.0" r="4.7"/><circle cx="274.7" cy="96.8" r="4.7"/><circle cx="274.0" cy="95.9" r="4.7"/><circle cx="276.6" cy="94.3" r="4.7"/><circle cx="275.6" cy="94.1" r="4.7"/><circle cx="277.4" cy="97.2" r="4.7"/><circle cx="276.7" cy="92.1" r="4.7"/><circle cx="277.5" cy="92.7" r="4.7"/><circle cx="278.8" cy="91.0" r="4.7"/><circle cx="278.9" cy="90.6" r="4.7"/><circle cx="281.0" cy="93.7" r="4.7"/><circle cx="279.5" cy="94.7" r="4.7"/><circle cx="280.3" cy="91.2" r="4.7"/><circle cx="283.1" cy="94.2" r="4.7"/><circle cx="283.2" cy="92.1" r="4.7"/><circle cx="282.6" cy="93.8" r="4.7"/><circle cx="283.1" cy="91.3" r="4.7"/><circle cx="284.5" cy="90.5" r="4.7"/><circle cx="285.2" cy="95.8" r="4.7"/><circle cx="286.7" cy="94.2" r="4.7"/><circle cx="287.0" cy="94.6" r="4.7"/><circle cx="286.4" cy="96.1" r="4.7"/><circle cx="287.5" cy="97.7" r="4.7"/><circle cx="289.3" cy="96.2" r="4.7"/><circle cx="289.0" cy="99.0" r="4.7"/><circle cx="289.1" cy="96.1" r="4.7"/><circle cx="290.4" cy="101.1" r="4.7"/><circle cx="291.0" cy="100.5" r="4.7"/><circle cx="291.7" cy="101.0" r="4.7"/><circle cx="291.7" cy="100.1" r="4.7"/><circle cx="291.4" cy="101.9" r="4.7"/><circle cx="291.3" cy="101.1" r="4.7"/><circle cx="293.5" cy="103.7" r="4.7"/><circle cx="293.6" cy="101.3" r="4.7"/><circle cx="293.5" cy="103.2" r="4.7"/><circle cx="294.5" cy="103.5" r="4.7"/><circle cx="295.1" cy="107.6" r="4.7"/><circle cx="294.4" cy="106.4" r="4.7"/><circle cx="296.3" cy="105.3" r="4.7"/><circle cx="296.2" cy="109.6" r="4.7"/><circle cx="295.8" cy="107.3" r="4.7"/><circle cx="296.7" cy="109.4" r="4.7"/><circle cx="299.2" cy="108.1" r="4.7"/><circle cx="297.8" cy="109.0" r="4.7"/><circle cx="299.5" cy="110.4" r="4.7"/><circle cx="300.1" cy="110.4" r="4.7"/><circle cx="301.5" cy="110.1" r="4.7"/><circle cx="301.1" cy="113.5" r="4.7"/><circle cx="301.3" cy="111.3" r="4.7"/><circle cx="302.5" cy="111.5" r="4.7"/><circle cx="302.5" cy="112.5" r="4.7"/><circle cx="303.8" cy="106.0" r="4.7"/><circle cx="304.3" cy="107.9" r="4.7"/><circle cx="304.4" cy="107.6" r="4.7"/><circle cx="306.1" cy="109.1" r="4.7"/><circle cx="306.6" cy="105.9" r="4.7"/><circle cx="307.1" cy="108.7" r="4.7"/><circle cx="309.5" cy="106.9" r="4.7"/><circle cx="308.5" cy="108.4" r="4.7"/><circle cx="309.6" cy="104.2" r="4.7"/><circle cx="309.7" cy="107.6" r="4.7"/><circle cx="312.0" cy="106.3" r="4.7"/><circle cx="311.9" cy="105.5" r="4.7"/><circle cx="312.0" cy="107.9" r="4.7"/><circle cx="313.1" cy="106.1" r="4.7"/><circle cx="314.9" cy="107.7" r="4.7"/><circle cx="314.8" cy="104.7" r="4.7"/><circle cx="315.7" cy="104.0" r="4.7"/><circle cx="317.1" cy="106.0" r="4.7"/><circle cx="317.8" cy="105.8" r="4.7"/><circle cx="317.4" cy="106.1" r="4.7"/><circle cx="318.2" cy="106.1" r="4.7"/><circle cx="318.0" cy="109.8" r="4.7"/><circle cx="319.5" cy="106.8" r="4.7"/><circle cx="320.3" cy="108.5" r="4.7"/><circle cx="321.4" cy="109.6" r="4.7"/><circle cx="322.8" cy="108.0" r="4.7"/><circle cx="324.2" cy="111.3" r="4.7"/><circle cx="322.7" cy="110.7" r="4.7"/><circle cx="325.3" cy="109.9" r="4.7"/><circle cx="324.1" cy="109.7" r="4.7"/><circle cx="325.9" cy="103.8" r="4.7"/><circle cx="325.0" cy="109.5" r="4.7"/><circle cx="327.1" cy="104.4" r="4.7"/><circle cx="326.4" cy="103.1" r="4.7"/><circle cx="327.3" cy="106.8" r="4.7"/><circle cx="328.2" cy="103.2" r="4.7"/><circle cx="330.2" cy="107.9" r="4.7"/><circle cx="329.1" cy="109.0" r="4.7"/><circle cx="330.8" cy="108.8" r="4.7"/><circle cx="331.7" cy="110.0" r="4.7"/><circle cx="332.6" cy="110.2" r="4.7"/><circle cx="331.9" cy="109.7" r="4.7"/><circle cx="333.3" cy="110.5" r="4.7"/><circle cx="333.7" cy="112.0" r="4.7"/><circle cx="334.6" cy="108.4" r="4.7"/><circle cx="334.5" cy="108.1" r="4.7"/><circle cx="335.8" cy="108.1" r="4.7"/><circle cx="336.4" cy="111.5" r="4.7"/></g>
<g fill="#70AD47"><circle cx="123.2" cy="596.4" r="4.7"/><circle cx="124.0" cy="596.5" r="4.7"/><circle cx="124.8" cy="596.7" r="4.7"/><circle cx="124.0" cy="595.9" r="4.7"/><circle cx="125.9" cy="594.4" r="4.7"/><circle cx="127.2" cy="594.6" r="4.7"/><circle cx="127.3" cy="593.0" r="4.7"/><circle cx="129.6" cy="591.7" r="4.7"/><circle cx="129.6" cy="592.6" r="4.7"/><circle cx="128.8" cy="592.1" r="4.7"/><circle cx="131.3" cy="592.5" r="4.7"/><circle cx="131.3" cy="592.2" r="4.7"/><circle cx="132.7" cy="590.4" r="4.7"/><circle cx="134.5" cy="588.8" r="4.7"/><circle cx="134.9" cy="589.9" r="4.7"/><circle cx="134.8" cy="590.0" r="4.7"/><circle cx="135.8" cy="588.6" r="4.7"/><circle cx="137.1" cy="588.9" r="4.7"/><circle cx="137.1" cy="587.6" r="4.7"/><circle cx="138.6" cy="587.4" r="4.7"/><circle cx="140.5" cy="586.3" r="4.7"/><circle cx="141.5" cy="586.1" r="4.7"/><circle cx="141.5" cy="585.4" r="4.7"/><circle cx="142.4" cy="586.7" r="4.7"/><circle cx="143.7" cy="585.8" r="4.7"/><circle cx="143.8" cy="584.1" r="4.7"/><circle cx="144.5" cy="584.2" r="4.7"/><circle cx="146.1" cy="584.1" r="4.7"/><circle cx="145.4" cy="583.4" r="4.7"/><circle cx="148.4" cy="582.3" r="4.7"/><circle cx="147.0" cy="581.1" r="4.7"/><circle cx="147.7" cy="580.2" r="4.7"/><circle cx="150.8" cy="580.7" r="4.7"/><circle cx="150.9" cy="580.5" r="4.7"/><circle cx="152.4" cy="579.5" r="4.7"/><circle cx="152.4" cy="578.9" r="4.7"/><circle cx="153.4" cy="578.2" r="4.7"/><circle cx="154.2" cy="576.6" r="4.7"/><circle cx="154.9" cy="576.6" r="4.7"/><circle cx="155.9" cy="575.1" r="4.7"/><circle cx="155.2" cy="574.3" r="4.7"/><circle cx="157.6" cy="576.0" r="4.7"/><circle cx="158.0" cy="574.0" r="4.7"/><circle cx="159.3" cy="574.5" r="4.7"/><circle cx="159.4" cy="572.5" r="4.7"/><circle cx="159.5" cy="572.3" r="4.7"/><circle cx="160.3" cy="571.8" r="4.7"/><circle cx="162.0" cy="572.5" r="4.7"/><circle cx="161.2" cy="570.9" r="4.7"/><circle cx="162.0" cy="569.1" r="4.7"/><circle cx="164.8" cy="569.7" r="4.7"/><circle cx="165.8" cy="568.8" r="4.7"/><circle cx="164.3" cy="568.0" r="4.7"/><circle cx="166.6" cy="568.8" r="4.7"/><circle cx="168.4" cy="567.0" r="4.7"/><circle cx="167.7" cy="565.5" r="4.7"/><circle cx="169.1" cy="565.2" r="4.7"/><circle cx="168.6" cy="564.0" r="4.7"/><circle cx="169.0" cy="565.1" r="4.7"/><circle cx="170.1" cy="565.2" r="4.7"/><circle cx="170.8" cy="564.3" r="4.7"/><circle cx="171.7" cy="561.4" r="4.7"/><circle cx="174.0" cy="561.4" r="4.7"/><circle cx="174.8" cy="560.6" r="4.7"/><circle cx="173.8" cy="561.5" r="4.7"/><circle cx="176.3" cy="561.1" r="4.7"/><circle cx="177.1" cy="558.4" r="4.7"/><circle cx="177.7" cy="559.4" r="4.7"/><circle cx="178.0" cy="559.4" r="4.7"/><circle cx="178.3" cy="558.8" r="4.7"/><circle cx="180.3" cy="555.7" r="4.7"/><circle cx="179.2" cy="556.7" r="4.7"/><circle cx="182.1" cy="554.6" r="4.7"/><circle cx="181.6" cy="555.6" r="4.7"/><circle cx="182.0" cy="555.3" r="4.7"/><circle cx="183.6" cy="552.6" r="4.7"/><circle cx="184.1" cy="553.3" r="4.7"/><circle cx="185.0" cy="552.9" r="4.7"/><circle cx="185.0" cy="552.6" r="4.7"/><circle cx="186.4" cy="551.6" r="4.7"/><circle cx="187.9" cy="550.3" r="4.7"/><circle cx="188.0" cy="550.7" r="4.7"/><circle cx="190.3" cy="550.0" r="4.7"/><circle cx="190.1" cy="548.1" r="4.7"/><circle cx="189.5" cy="549.2" r="4.7"/><circle cx="192.0" cy="548.2" r="4.7"/><circle cx="191.8" cy="547.0" r="4.7"/><circle cx="194.3" cy="546.9" r="4.7"/><circle cx="194.1" cy="544.9" r="4.7"/><circle cx="194.4" cy="545.8" r="4.7"/><circle cx="195.1" cy="544.6" r="4.7"/><circle cx="196.4" cy="544.6" r="4.7"/><circle cx="197.7" cy="542.3" r="4.7"/><circle cx="196.4" cy="541.6" r="4.7"/><circle cx="198.3" cy="541.8" r="4.7"/><circle cx="200.1" cy="542.0" r="4.7"/><circle cx="198.8" cy="541.2" r="4.7"/><circle cx="201.6" cy="540.7" r="4.7"/><circle cx="201.8" cy="538.5" r="4.7"/><circle cx="203.3" cy="539.2" r="4.7"/><circle cx="203.6" cy="538.9" r="4.7"/><circle cx="203.5" cy="536.1" r="4.7"/><circle cx="204.8" cy="537.3" r="4.7"/><circle cx="204.7" cy="536.6" r="4.7"/><circle cx="207.3" cy="534.6" r="4.7"/><circle cx="207.3" cy="535.1" r="4.7"/><circle cx="207.7" cy="533.2" r="4.7"/><circle cx="207.9" cy="534.0" r="4.7"/><circle cx="210.1" cy="532.6" r="4.7"/><circle cx="209.0" cy="532.9" r="4.7"/><circle cx="211.6" cy="530.8" r="4.7"/><circle cx="211.9" cy="531.8" r="4.7"/><circle cx="213.4" cy="530.2" r="4.7"/><circle cx="213.1" cy="529.8" r="4.7"/><circle cx="213.2" cy="528.1" r="4.7"/><circle cx="213.9" cy="528.8" r="4.7"/><circle cx="215.2" cy="527.8" r="4.7"/><circle cx="216.0" cy="527.0" r="4.7"/><circle cx="216.1" cy="525.1" r="4.7"/><circle cx="219.1" cy="525.3" r="4.7"/><circle cx="217.5" cy="525.3" r="4.7"/><circle cx="220.0" cy="523.3" r="4.7"/><circle cx="220.2" cy="523.1" r="4.7"/><circle cx="220.7" cy="521.6" r="4.7"/><circle cx="220.2" cy="523.4" r="4.7"/><circle cx="223.1" cy="521.4" r="4.7"/><circle cx="223.1" cy="520.1" r="4.7"/><circle cx="224.3" cy="519.8" r="4.7"/><circle cx="225.5" cy="520.0" r="4.7"/><circle cx="225.9" cy="519.9" r="4.7"/><circle cx="225.2" cy="516.8" r="4.7"/><circle cx="225.8" cy="516.4" r="4.7"/><circle cx="226.2" cy="515.4" r="4.7"/><circle cx="228.2" cy="516.8" r="4.7"/><circle cx="228.6" cy="516.3" r="4.7"/><circle cx="230.5" cy="513.3" r="4.7"/><circle cx="230.5" cy="513.5" r="4.7"/><circle cx="230.0" cy="514.3" r="4.7"/><circle cx="231.0" cy="512.6" r="4.7"/><circle cx="232.8" cy="512.9" r="4.7"/><circle cx="233.6" cy="510.7" r="4.7"/><circle cx="233.7" cy="509.4" r="4.7"/><circle cx="235.8" cy="510.9" r="4.7"/><circle cx="234.6" cy="507.7" r="4.7"/><circle cx="235.4" cy="507.9" r="4.7"/><circle cx="237.8" cy="508.6" r="4.7"/><circle cx="238.4" cy="505.7" r="4.7"/><circle cx="238.9" cy="506.8" r="4.7"/><circle cx="239.3" cy="506.8" r="4.7"/><circle cx="238.5" cy="504.0" r="4.7"/><circle cx="241.0" cy="505.3" r="4.7"/><circle cx="241.5" cy="503.0" r="4.7"/><circle cx="242.0" cy="503.5" r="4.7"/><circle cx="241.5" cy="501.7" r="4.7"/><circle cx="242.6" cy="500.5" r="4.7"/><circle cx="243.9" cy="500.0" r="4.7"/><circle cx="244.0" cy="499.2" r="4.7"/><circle cx="245.9" cy="498.2" r="4.7"/><circle cx="246.7" cy="498.0" r="4.7"/><circle cx="245.6" cy="499.2" r="4.7"/><circle cx="246.8" cy="498.6" r="4.7"/><circle cx="249.2" cy="497.8" r="4.7"/><circle cx="248.1" cy="496.0" r="4.7"/><circle cx="248.7" cy="496.5" r="4.7"/><circle cx="251.3" cy="495.1" r="4.7"/><circle cx="251.1" cy="493.7" r="4.7"/><circle cx="252.7" cy="493.3" r="4.7"/><circle cx="253.0" cy="491.8" r="4.7"/><circle cx="252.6" cy="490.9" r="4.7"/><circle cx="254.6" cy="491.5" r="4.7"/><circle cx="253.9" cy="491.6" r="4.7"/><circle cx="254.9" cy="489.8" r="4.7"/><circle cx="255.4" cy="488.7" r="4.7"/><circle cx="257.9" cy="488.2" r="4.7"/><circle cx="256.8" cy="487.9" r="4.7"/><circle cx="258.0" cy="488.3" r="4.7"/><circle cx="258.1" cy="487.8" r="4.7"/><circle cx="258.7" cy="486.9" r="4.7"/><circle cx="261.0" cy="484.4" r="4.7"/><circle cx="261.3" cy="484.0" r="4.7"/><circle cx="261.4" cy="483.1" r="4.7"/><circle cx="262.4" cy="484.4" r="4.7"/><circle cx="264.8" cy="483.6" r="4.7"/><circle cx="263.2" cy="481.2" r="4.7"/><circle cx="266.0" cy="479.9" r="4.7"/><circle cx="266.3" cy="479.9" r="4.7"/><circle cx="267.6" cy="478.5" r="4.7"/><circle cx="267.9" cy="478.6" r="4.7"/><circle cx="266.9" cy="477.1" r="4.7"/><circle cx="269.4" cy="477.8" r="4.7"/><circle cx="268.5" cy="476.8" r="4.7"/><circle cx="271.0" cy="475.6" r="4.7"/><circle cx="270.8" cy="474.6" r="4.7"/><circle cx="270.5" cy="475.6" r="4.7"/><circle cx="272.5" cy="473.4" r="4.7"/><circle cx="271.6" cy="472.4" r="4.7"/><circle cx="273.6" cy="472.7" r="4.7"/><circle cx="273.4" cy="471.3" r="4.7"/><circle cx="274.9" cy="471.9" r="4.7"/><circle cx="276.1" cy="470.8" r="4.7"/><circle cx="275.2" cy="468.8" r="4.7"/><circle cx="277.3" cy="469.0" r="4.7"/><circle cx="277.9" cy="467.4" r="4.7"/><circle cx="278.8" cy="467.4" r="4.7"/><circle cx="279.6" cy="468.0" r="4.7"/><circle cx="279.4" cy="465.0" r="4.7"/><circle cx="281.2" cy="465.5" r="4.7"/><circle cx="281.8" cy="464.2" r="4.7"/><circle cx="280.8" cy="464.9" r="4.7"/><circle cx="281.9" cy="462.4" r="4.7"/><circle cx="282.7" cy="462.7" r="4.7"/><circle cx="282.5" cy="461.8" r="4.7"/><circle cx="284.5" cy="461.1" r="4.7"/><circle cx="284.4" cy="460.8" r="4.7"/><circle cx="287.0" cy="460.5" r="4.7"/><circle cx="286.5" cy="459.3" r="4.7"/><circle cx="287.5" cy="459.0" r="4.7"/><circle cx="287.5" cy="458.9" r="4.7"/><circle cx="290.6" cy="457.5" r="4.7"/><circle cx="290.2" cy="457.1" r="4.7"/><circle cx="291.1" cy="455.4" r="4.7"/><circle cx="293.2" cy="455.7" r="4.7"/><circle cx="292.2" cy="455.2" r="4.7"/><circle cx="293.4" cy="456.9" r="4.7"/><circle cx="293.8" cy="454.8" r="4.7"/><circle cx="296.5" cy="454.9" r="4.7"/><circle cx="295.7" cy="455.8" r="4.7"/><circle cx="298.2" cy="455.6" r="4.7"/><circle cx="299.5" cy="454.5" r="4.7"/><circle cx="300.9" cy="456.1" r="4.7"/><circle cx="299.8" cy="454.6" r="4.7"/><circle cx="301.9" cy="455.6" r="4.7"/><circle cx="302.3" cy="454.6" r="4.7"/><circle cx="303.9" cy="455.6" r="4.7"/><circle cx="304.1" cy="436.8" r="4.7"/><circle cx="304.9" cy="381.6" r="4.7"/><circle cx="305.8" cy="309.5" r="4.7"/><circle cx="306.7" cy="246.0" r="4.7"/><circle cx="307.5" cy="213.3" r="4.7"/><circle cx="308.1" cy="195.4" r="4.7"/><circle cx="308.7" cy="181.9" r="4.7"/><circle cx="309.5" cy="174.4" r="4.7"/><circle cx="310.7" cy="165.1" r="4.7"/><circle cx="312.4" cy="151.3" r="4.7"/><circle cx="313.0" cy="147.8" r="4.7"/><circle cx="312.5" cy="148.5" r="4.7"/><circle cx="313.1" cy="150.7" r="4.7"/><circle cx="312.3" cy="148.4" r="4.7"/><circle cx="313.9" cy="145.6" r="4.7"/><circle cx="314.3" cy="148.0" r="4.7"/><circle cx="313.5" cy="144.7" r="4.7"/><circle cx="314.8" cy="144.1" r="4.7"/><circle cx="314.0" cy="144.9" r="4.7"/><circle cx="315.2" cy="141.2" r="4.7"/><circle cx="314.2" cy="140.2" r="4.7"/><circle cx="314.9" cy="142.0" r="4.7"/><circle cx="316.1" cy="140.6" r="4.7"/><circle cx="316.4" cy="139.3" r="4.7"/><circle cx="315.0" cy="136.9" r="4.7"/><circle cx="317.6" cy="137.8" r="4.7"/><circle cx="316.4" cy="134.6" r="4.7"/><circle cx="317.8" cy="133.4" r="4.7"/><circle cx="318.0" cy="131.2" r="4.7"/><circle cx="318.2" cy="132.1" r="4.7"/><circle cx="317.6" cy="129.6" r="4.7"/><circle cx="320.3" cy="131.4" r="4.7"/><circle cx="320.5" cy="129.8" r="4.7"/><circle cx="320.6" cy="130.0" r="4.7"/><circle cx="321.1" cy="125.3" r="4.7"/><circle cx="320.9" cy="125.4" r="4.7"/><circle cx="321.4" cy="124.5" r="4.7"/><circle cx="321.4" cy="126.4" r="4.7"/><circle cx="321.9" cy="122.5" r="4.7"/><circle cx="322.0" cy="122.3" r="4.7"/><circle cx="323.4" cy="120.7" r="4.7"/><circle cx="322.2" cy="121.3" r="4.7"/><circle cx="322.1" cy="120.2" r="4.7"/><circle cx="324.5" cy="118.9" r="4.7"/><circle cx="323.2" cy="117.7" r="4.7"/><circle cx="324.2" cy="115.4" r="4.7"/><circle cx="323.5" cy="114.3" r="4.7"/><circle cx="324.1" cy="114.5" r="4.7"/><circle cx="324.4" cy="112.8" r="4.7"/><circle cx="324.2" cy="113.1" r="4.7"/><circle cx="326.2" cy="112.4" r="4.7"/><circle cx="325.9" cy="111.6" r="4.7"/><circle cx="325.2" cy="110.9" r="4.7"/><circle cx="326.1" cy="109.2" r="4.7"/><circle cx="326.7" cy="107.8" r="4.7"/><circle cx="326.3" cy="105.9" r="4.7"/><circle cx="326.3" cy="106.1" r="4.7"/><circle cx="326.9" cy="107.4" r="4.7"/><circle cx="326.3" cy="107.4" r="4.7"/><circle cx="328.5" cy="107.8" r="4.7"/><circle cx="328.0" cy="110.0" r="4.7"/><circle cx="327.5" cy="113.1" r="4.7"/><circle cx="327.8" cy="113.2" r="4.7"/><circle cx="327.7" cy="111.1" r="4.7"/><circle cx="329.6" cy="113.7" r="4.7"/><circle cx="327.8" cy="114.5" r="4.7"/><circle cx="329.0" cy="117.0" r="4.7"/><circle cx="328.4" cy="115.8" r="4.7"/><circle cx="330.6" cy="119.1" r="4.7"/><circle cx="328.9" cy="118.3" r="4.7"/><circle cx="329.5" cy="120.8" r="4.7"/><circle cx="330.4" cy="122.5" r="4.7"/><circle cx="331.1" cy="122.1" r="4.7"/><circle cx="331.1" cy="124.1" r="4.7"/><circle cx="331.4" cy="123.9" r="4.7"/><circle cx="331.8" cy="125.9" r="4.7"/><circle cx="332.4" cy="124.4" r="4.7"/><circle cx="332.6" cy="124.8" r="4.7"/><circle cx="332.6" cy="128.4" r="4.7"/><circle cx="332.3" cy="131.0" r="4.7"/><circle cx="332.8" cy="129.6" r="4.7"/><circle cx="333.8" cy="130.7" r="4.7"/><circle cx="333.8" cy="127.6" r="4.7"/><circle cx="333.9" cy="127.0" r="4.7"/><circle cx="335.0" cy="125.4" r="4.7"/><circle cx="334.7" cy="125.6" r="4.7"/><circle cx="335.2" cy="123.7" r="4.7"/><circle cx="336.6" cy="125.1" r="4.7"/><circle cx="336.4" cy="122.4" r="4.7"/><circle cx="336.2" cy="120.9" r="4.7"/><circle cx="336.6" cy="121.4" r="4.7"/><circle cx="338.2" cy="118.4" r="4.7"/><circle cx="339.5" cy="118.7" r="4.7"/><circle cx="339.9" cy="120.1" r="4.7"/><circle cx="340.7" cy="116.6" r="4.7"/><circle cx="340.0" cy="118.9" r="4.7"/><circle cx="339.5" cy="114.3" r="4.7"/><circle cx="341.4" cy="115.5" r="4.7"/><circle cx="342.9" cy="116.0" r="4.7"/><circle cx="342.6" cy="116.3" r="4.7"/><circle cx="343.3" cy="113.6" r="4.7"/><circle cx="344.3" cy="112.3" r="4.7"/><circle cx="344.2" cy="112.6" r="4.7"/><circle cx="344.9" cy="113.4" r="4.7"/><circle cx="346.3" cy="110.9" r="4.7"/><circle cx="345.5" cy="111.0" r="4.7"/><circle cx="346.9" cy="112.6" r="4.7"/><circle cx="347.9" cy="114.8" r="4.7"/><circle cx="349.4" cy="113.8" r="4.7"/><circle cx="348.8" cy="115.2" r="4.7"/><circle cx="350.7" cy="114.7" r="4.7"/><circle cx="350.2" cy="117.5" r="4.7"/><circle cx="349.9" cy="116.1" r="4.7"/><circle cx="352.7" cy="118.9" r="4.7"/><circle cx="352.4" cy="116.3" r="4.7"/><circle cx="354.1" cy="119.4" r="4.7"/><circle cx="354.7" cy="121.2" r="4.7"/><circle cx="355.7" cy="119.3" r="4.7"/><circle cx="354.8" cy="119.2" r="4.7"/><circle cx="356.4" cy="120.7" r="4.7"/><circle cx="356.6" cy="119.0" r="4.7"/><circle cx="358.6" cy="120.5" r="4.7"/><circle cx="358.9" cy="121.9" r="4.7"/><circle cx="360.5" cy="117.4" r="4.7"/><circle cx="360.9" cy="120.4" r="4.7"/><circle cx="361.6" cy="119.6" r="4.7"/><circle cx="361.7" cy="118.5" r="4.7"/><circle cx="364.5" cy="120.3" r="4.7"/><circle cx="364.9" cy="119.2" r="4.7"/><circle cx="365.2" cy="121.3" r="4.7"/><circle cx="365.5" cy="122.3" r="4.7"/><circle cx="366.9" cy="124.4" r="4.7"/><circle cx="367.3" cy="120.9" r="4.7"/><circle cx="366.6" cy="118.9" r="4.7"/><circle cx="368.5" cy="117.8" r="4.7"/><circle cx="367.2" cy="117.2" r="4.7"/><circle cx="368.6" cy="119.1" r="4.7"/><circle cx="369.2" cy="118.1" r="4.7"/><circle cx="368.2" cy="113.8" r="4.7"/><circle cx="370.2" cy="114.2" r="4.7"/><circle cx="370.4" cy="113.5" r="4.7"/><circle cx="369.4" cy="112.2" r="4.7"/><circle cx="369.6" cy="114.2" r="4.7"/><circle cx="371.1" cy="110.9" r="4.7"/><circle cx="371.1" cy="110.2" r="4.7"/><circle cx="370.4" cy="111.5" r="4.7"/><circle cx="372.7" cy="111.9" r="4.7"/><circle cx="373.3" cy="110.5" r="4.7"/><circle cx="373.8" cy="108.1" r="4.7"/><circle cx="376.4" cy="111.8" r="4.7"/><circle cx="376.3" cy="110.3" r="4.7"/><circle cx="322.0" cy="131.1" r="4.7"/><circle cx="330.1" cy="119.8" r="4.7"/><circle cx="326.6" cy="132.2" r="4.7"/><circle cx="324.9" cy="132.0" r="4.7"/><circle cx="320.9" cy="121.4" r="4.7"/><circle cx="328.5" cy="118.2" r="4.7"/><circle cx="321.9" cy="130.6" r="4.7"/><circle cx="324.8" cy="129.1" r="4.7"/><circle cx="320.9" cy="117.3" r="4.7"/><circle cx="322.7" cy="117.5" r="4.7"/><circle cx="332.5" cy="119.5" r="4.7"/><circle cx="326.0" cy="116.2" r="4.7"/><circle cx="325.5" cy="121.3" r="4.7"/><circle cx="323.5" cy="115.2" r="4.7"/><circle cx="319.0" cy="129.7" r="4.7"/><circle cx="322.6" cy="118.7" r="4.7"/><circle cx="320.1" cy="119.4" r="4.7"/><circle cx="320.8" cy="114.7" r="4.7"/><circle cx="327.6" cy="120.5" r="4.7"/><circle cx="319.5" cy="127.4" r="4.7"/><circle cx="318.5" cy="119.1" r="4.7"/><circle cx="330.4" cy="116.4" r="4.7"/><circle cx="324.1" cy="129.9" r="4.7"/><circle cx="329.9" cy="117.0" r="4.7"/><circle cx="322.6" cy="127.7" r="4.7"/><circle cx="323.0" cy="132.2" r="4.7"/><circle cx="316.5" cy="140.5" r="4.7"/><circle cx="320.5" cy="138.0" r="4.7"/><circle cx="319.0" cy="145.0" r="4.7"/></g>
<g fill="#4472C4"><circle cx="123.5" cy="599.8" r="4.7"/><circle cx="124.8" cy="600.4" r="4.7"/><circle cx="126.2" cy="599.2" r="4.7"/><circle cx="127.5" cy="599.4" r="4.7"/><circle cx="128.9" cy="599.2" r="4.7"/><circle cx="130.2" cy="599.4" r="4.7"/><circle cx="131.6" cy="599.2" r="4.7"/><circle cx="132.9" cy="598.9" r="4.7"/><circle cx="134.3" cy="599.6" r="4.7"/><circle cx="135.6" cy="598.8" r="4.7"/><circle cx="137.0" cy="598.8" r="4.7"/><circle cx="138.3" cy="599.2" r="4.7"/><circle cx="139.7" cy="598.7" r="4.7"/><circle cx="141.0" cy="598.7" r="4.7"/><circle cx="142.4" cy="598.9" r="4.7"/><circle cx="143.7" cy="598.5" r="4.7"/><circle cx="145.1" cy="598.0" r="4.7"/><circle cx="146.4" cy="598.4" r="4.7"/><circle cx="147.8" cy="598.3" r="4.7"/><circle cx="149.1" cy="599.0" r="4.7"/><circle cx="150.5" cy="597.7" r="4.7"/><circle cx="151.8" cy="598.5" r="4.7"/><circle cx="153.2" cy="597.7" r="4.7"/><circle cx="154.5" cy="597.8" r="4.7"/><circle cx="155.9" cy="597.7" r="4.7"/><circle cx="157.2" cy="597.9" r="4.7"/><circle cx="158.6" cy="598.0" r="4.7"/><circle cx="159.9" cy="598.3" r="4.7"/><circle cx="161.3" cy="597.2" r="4.7"/><circle cx="162.6" cy="598.0" r="4.7"/><circle cx="164.0" cy="597.7" r="4.7"/><circle cx="165.3" cy="597.6" r="4.7"/><circle cx="166.7" cy="596.8" r="4.7"/><circle cx="168.0" cy="597.4" r="4.7"/><circle cx="169.4" cy="596.9" r="4.7"/><circle cx="170.7" cy="597.0" r="4.7"/><circle cx="172.1" cy="596.7" r="4.7"/><circle cx="173.4" cy="597.0" r="4.7"/><circle cx="174.8" cy="597.2" r="4.7"/><circle cx="176.1" cy="597.1" r="4.7"/><circle cx="177.5" cy="596.4" r="4.7"/><circle cx="178.8" cy="596.9" r="4.7"/><circle cx="180.2" cy="597.0" r="4.7"/><circle cx="181.5" cy="595.8" r="4.7"/><circle cx="182.9" cy="596.9" r="4.7"/><circle cx="184.2" cy="595.5" r="4.7"/><circle cx="185.6" cy="596.3" r="4.7"/><circle cx="186.9" cy="596.2" r="4.7"/><circle cx="188.3" cy="596.6" r="4.7"/><circle cx="189.6" cy="595.9" r="4.7"/><circle cx="191.0" cy="595.5" r="4.7"/><circle cx="192.3" cy="595.2" r="4.7"/><circle cx="193.7" cy="594.9" r="4.7"/><circle cx="195.0" cy="595.9" r="4.7"/><circle cx="196.4" cy="595.3" r="4.7"/><circle cx="197.7" cy="595.0" r="4.7"/><circle cx="199.1" cy="595.5" r="4.7"/><circle cx="200.4" cy="594.8" r="4.7"/><circle cx="201.8" cy="594.8" r="4.7"/><circle cx="203.1" cy="594.7" r="4.7"/><circle cx="204.5" cy="595.6" r="4.7"/><circle cx="205.8" cy="595.4" r="4.7"/><circle cx="207.2" cy="594.5" r="4.7"/><circle cx="208.5" cy="593.6" r="4.7"/><circle cx="209.9" cy="594.5" r="4.7"/><circle cx="211.2" cy="594.2" r="4.7"/><circle cx="212.6" cy="594.3" r="4.7"/><circle cx="213.9" cy="594.3" r="4.7"/><circle cx="215.3" cy="593.7" r="4.7"/><circle cx="216.6" cy="594.2" r="4.7"/><circle cx="218.0" cy="594.1" r="4.7"/><circle cx="219.3" cy="593.6" r="4.7"/><circle cx="220.7" cy="593.1" r="4.7"/><circle cx="222.0" cy="593.0" r="4.7"/><circle cx="223.4" cy="593.5" r="4.7"/><circle cx="224.7" cy="592.4" r="4.7"/><circle cx="226.1" cy="592.8" r="4.7"/><circle cx="227.4" cy="592.4" r="4.7"/><circle cx="228.8" cy="591.9" r="4.7"/><circle cx="230.1" cy="592.9" r="4.7"/><circle cx="231.5" cy="592.4" r="4.7"/><circle cx="232.8" cy="592.3" r="4.7"/><circle cx="234.2" cy="592.7" r="4.7"/><circle cx="235.5" cy="591.2" r="4.7"/><circle cx="236.9" cy="591.9" r="4.7"/><circle cx="238.2" cy="592.0" r="4.7"/><circle cx="239.6" cy="592.2" r="4.7"/><circle cx="240.9" cy="591.0" r="4.7"/><circle cx="242.3" cy="591.9" r="4.7"/><circle cx="243.6" cy="591.5" r="4.7"/><circle cx="245.0" cy="592.1" r="4.7"/><circle cx="246.3" cy="591.8" r="4.7"/><circle cx="247.7" cy="591.4" r="4.7"/><circle cx="249.0" cy="592.2" r="4.7"/><circle cx="250.4" cy="590.8" r="4.7"/><circle cx="251.7" cy="590.5" r="4.7"/><circle cx="253.1" cy="590.4" r="4.7"/><circle cx="254.4" cy="589.9" r="4.7"/><circle cx="255.8" cy="590.3" r="4.7"/><circle cx="257.1" cy="589.1" r="4.7"/><circle cx="258.5" cy="590.1" r="4.7"/><circle cx="259.8" cy="590.3" r="4.7"/><circle cx="261.2" cy="590.5" r="4.7"/><circle cx="262.5" cy="589.5" r="4.7"/><circle cx="263.9" cy="590.4" r="4.7"/><circle cx="265.2" cy="589.0" r="4.7"/><circle cx="266.6" cy="589.1" r="4.7"/><circle cx="267.9" cy="587.9" r="4.7"/><circle cx="269.3" cy="588.4" r="4.7"/><circle cx="270.6" cy="588.2" r="4.7"/><circle cx="272.0" cy="589.5" r="4.7"/><circle cx="273.3" cy="588.8" r="4.7"/><circle cx="274.7" cy="587.6" r="4.7"/><circle cx="276.0" cy="588.4" r="4.7"/><circle cx="277.4" cy="588.3" r="4.7"/><circle cx="278.7" cy="587.6" r="4.7"/><circle cx="280.1" cy="587.6" r="4.7"/><circle cx="281.4" cy="587.3" r="4.7"/><circle cx="282.8" cy="587.0" r="4.7"/><circle cx="284.1" cy="586.0" r="4.7"/><circle cx="285.5" cy="586.9" r="4.7"/><circle cx="286.8" cy="587.7" r="4.7"/><circle cx="288.2" cy="587.6" r="4.7"/><circle cx="289.6" cy="586.3" r="4.7"/><circle cx="290.9" cy="585.8" r="4.7"/><circle cx="292.3" cy="586.0" r="4.7"/><circle cx="293.6" cy="586.6" r="4.7"/><circle cx="295.0" cy="586.0" r="4.7"/><circle cx="296.3" cy="585.2" r="4.7"/><circle cx="297.7" cy="585.7" r="4.7"/><circle cx="299.0" cy="585.1" r="4.7"/><circle cx="300.4" cy="585.4" r="4.7"/><circle cx="301.7" cy="584.5" r="4.7"/><circle cx="303.1" cy="583.6" r="4.7"/><circle cx="304.4" cy="584.4" r="4.7"/><circle cx="305.8" cy="584.7" r="4.7"/><circle cx="307.1" cy="583.2" r="4.7"/><circle cx="308.5" cy="583.6" r="4.7"/><circle cx="309.8" cy="584.1" r="4.7"/><circle cx="311.2" cy="583.0" r="4.7"/><circle cx="312.5" cy="582.6" r="4.7"/><circle cx="313.9" cy="584.2" r="4.7"/><circle cx="315.2" cy="583.2" r="4.7"/><circle cx="316.6" cy="583.1" r="4.7"/><circle cx="317.9" cy="581.5" r="4.7"/><circle cx="319.3" cy="583.1" r="4.7"/><circle cx="320.6" cy="580.5" r="4.7"/><circle cx="322.0" cy="581.1" r="4.7"/><circle cx="323.3" cy="581.8" r="4.7"/><circle cx="324.7" cy="582.0" r="4.7"/><circle cx="326.0" cy="580.2" r="4.7"/><circle cx="327.4" cy="580.1" r="4.7"/><circle cx="328.7" cy="580.6" r="4.7"/><circle cx="330.1" cy="578.8" r="4.7"/><circle cx="331.4" cy="580.5" r="4.7"/><circle cx="332.8" cy="580.2" r="4.7"/><circle cx="334.1" cy="579.3" r="4.7"/><circle cx="335.5" cy="579.8" r="4.7"/><circle cx="336.8" cy="579.8" r="4.7"/><circle cx="338.2" cy="579.3" r="4.7"/><circle cx="339.5" cy="579.2" r="4.7"/><circle cx="340.9" cy="579.8" r="4.7"/><circle cx="342.2" cy="578.1" r="4.7"/><circle cx="343.6" cy="578.4" r="4.7"/><circle cx="344.9" cy="577.6" r="4.7"/><circle cx="346.3" cy="578.6" r="4.7"/><circle cx="347.6" cy="577.3" r="4.7"/><circle cx="349.0" cy="577.8" r="4.7"/><circle cx="350.3" cy="577.4" r="4.7"/><circle cx="351.7" cy="577.1" r="4.7"/><circle cx="353.0" cy="578.2" r="4.7"/><circle cx="354.4" cy="576.6" r="4.7"/><circle cx="355.7" cy="577.6" r="4.7"/><circle cx="357.1" cy="576.9" r="4.7"/><circle cx="358.4" cy="577.1" r="4.7"/><circle cx="359.8" cy="575.8" r="4.7"/><circle cx="361.1" cy="576.4" r="4.7"/><circle cx="362.5" cy="576.1" r="4.7"/><circle cx="363.8" cy="574.8" r="4.7"/><circle cx="365.2" cy="575.3" r="4.7"/><circle cx="366.5" cy="574.8" r="4.7"/><circle cx="367.9" cy="574.7" r="4.7"/><circle cx="369.2" cy="575.6" r="4.7"/><circle cx="370.6" cy="573.8" r="4.7"/><circle cx="371.9" cy="572.8" r="4.7"/><circle cx="373.3" cy="572.5" r="4.7"/><circle cx="374.6" cy="573.4" r="4.7"/><circle cx="376.0" cy="573.1" r="4.7"/><circle cx="377.3" cy="573.4" r="4.7"/><circle cx="378.7" cy="573.7" r="4.7"/><circle cx="380.0" cy="574.5" r="4.7"/><circle cx="381.4" cy="573.1" r="4.7"/><circle cx="382.7" cy="573.0" r="4.7"/><circle cx="384.1" cy="571.8" r="4.7"/><circle cx="385.4" cy="572.6" r="4.7"/><circle cx="386.8" cy="573.1" r="4.7"/><circle cx="388.1" cy="572.8" r="4.7"/><circle cx="389.5" cy="569.8" r="4.7"/><circle cx="390.8" cy="572.0" r="4.7"/><circle cx="392.2" cy="572.4" r="4.7"/><circle cx="393.5" cy="571.5" r="4.7"/><circle cx="394.9" cy="569.2" r="4.7"/><circle cx="396.2" cy="570.0" r="4.7"/><circle cx="397.6" cy="570.6" r="4.7"/><circle cx="398.9" cy="570.2" r="4.7"/><circle cx="400.3" cy="568.9" r="4.7"/><circle cx="401.6" cy="568.6" r="4.7"/><circle cx="403.0" cy="570.0" r="4.7"/><circle cx="404.3" cy="567.7" r="4.7"/><circle cx="405.7" cy="569.9" r="4.7"/><circle cx="407.0" cy="568.5" r="4.7"/><circle cx="408.4" cy="568.5" r="4.7"/><circle cx="409.7" cy="566.8" r="4.7"/><circle cx="411.1" cy="567.3" r="4.7"/><circle cx="412.4" cy="568.2" r="4.7"/><circle cx="413.8" cy="566.1" r="4.7"/><circle cx="415.1" cy="569.1" r="4.7"/><circle cx="416.5" cy="565.7" r="4.7"/><circle cx="417.8" cy="565.7" r="4.7"/><circle cx="419.2" cy="566.7" r="4.7"/><circle cx="420.5" cy="566.8" r="4.7"/><circle cx="421.9" cy="566.7" r="4.7"/><circle cx="423.2" cy="565.3" r="4.7"/><circle cx="424.6" cy="565.1" r="4.7"/><circle cx="425.9" cy="564.7" r="4.7"/><circle cx="427.3" cy="564.0" r="4.7"/><circle cx="428.6" cy="561.8" r="4.7"/><circle cx="430.0" cy="564.7" r="4.7"/><circle cx="431.3" cy="563.7" r="4.7"/><circle cx="432.7" cy="563.2" r="4.7"/><circle cx="434.0" cy="562.1" r="4.7"/><circle cx="435.4" cy="562.6" r="4.7"/><circle cx="436.7" cy="562.0" r="4.7"/><circle cx="438.1" cy="561.6" r="4.7"/><circle cx="439.4" cy="562.4" r="4.7"/><circle cx="440.8" cy="559.4" r="4.7"/><circle cx="442.1" cy="560.9" r="4.7"/><circle cx="443.5" cy="559.3" r="4.7"/><circle cx="444.8" cy="559.7" r="4.7"/><circle cx="446.2" cy="561.1" r="4.7"/><circle cx="447.5" cy="558.3" r="4.7"/><circle cx="448.9" cy="559.0" r="4.7"/><circle cx="450.2" cy="558.3" r="4.7"/><circle cx="451.6" cy="559.5" r="4.7"/><circle cx="452.9" cy="557.3" r="4.7"/><circle cx="454.3" cy="556.4" r="4.7"/><circle cx="455.6" cy="558.3" r="4.7"/><circle cx="457.0" cy="557.2" r="4.7"/><circle cx="458.3" cy="556.9" r="4.7"/><circle cx="459.7" cy="558.0" r="4.7"/><circle cx="461.0" cy="555.7" r="4.7"/><circle cx="462.4" cy="555.9" r="4.7"/><circle cx="463.7" cy="556.1" r="4.7"/><circle cx="465.1" cy="556.0" r="4.7"/><circle cx="466.4" cy="554.7" r="4.7"/><circle cx="467.8" cy="556.0" r="4.7"/><circle cx="469.1" cy="556.9" r="4.7"/><circle cx="470.5" cy="553.9" r="4.7"/><circle cx="471.8" cy="555.9" r="4.7"/><circle cx="473.2" cy="551.4" r="4.7"/><circle cx="474.5" cy="554.7" r="4.7"/><circle cx="475.9" cy="552.5" r="4.7"/><circle cx="477.2" cy="552.6" r="4.7"/><circle cx="478.6" cy="551.7" r="4.7"/><circle cx="479.9" cy="551.0" r="4.7"/><circle cx="481.3" cy="550.0" r="4.7"/><circle cx="482.6" cy="550.5" r="4.7"/><circle cx="484.0" cy="552.0" r="4.7"/><circle cx="485.3" cy="551.5" r="4.7"/><circle cx="486.7" cy="549.6" r="4.7"/><circle cx="488.0" cy="549.1" r="4.7"/><circle cx="489.4" cy="548.6" r="4.7"/><circle cx="490.7" cy="547.7" r="4.7"/><circle cx="492.1" cy="550.7" r="4.7"/><circle cx="493.4" cy="549.1" r="4.7"/><circle cx="494.8" cy="548.3" r="4.7"/><circle cx="496.1" cy="547.3" r="4.7"/><circle cx="497.5" cy="546.4" r="4.7"/><circle cx="498.8" cy="548.6" r="4.7"/><circle cx="500.2" cy="547.6" r="4.7"/><circle cx="501.5" cy="545.3" r="4.7"/><circle cx="502.9" cy="547.0" r="4.7"/><circle cx="504.2" cy="544.3" r="4.7"/><circle cx="505.6" cy="545.8" r="4.7"/><circle cx="506.9" cy="543.7" r="4.7"/><circle cx="508.3" cy="543.9" r="4.7"/><circle cx="509.6" cy="544.5" r="4.7"/><circle cx="511.0" cy="544.0" r="4.7"/><circle cx="512.3" cy="544.3" r="4.7"/><circle cx="513.7" cy="541.8" r="4.7"/><circle cx="515.0" cy="544.2" r="4.7"/><circle cx="516.4" cy="543.5" r="4.7"/><circle cx="517.7" cy="541.6" r="4.7"/><circle cx="519.1" cy="541.8" r="4.7"/><circle cx="520.4" cy="540.0" r="4.7"/><circle cx="521.8" cy="540.4" r="4.7"/><circle cx="523.1" cy="538.7" r="4.7"/><circle cx="524.5" cy="539.9" r="4.7"/><circle cx="525.8" cy="539.6" r="4.7"/><circle cx="527.2" cy="540.6" r="4.7"/><circle cx="528.5" cy="539.8" r="4.7"/><circle cx="529.9" cy="539.3" r="4.7"/><circle cx="531.2" cy="537.5" r="4.7"/><circle cx="532.6" cy="537.2" r="4.7"/><circle cx="533.9" cy="536.6" r="4.7"/><circle cx="535.3" cy="536.8" r="4.7"/><circle cx="536.6" cy="533.9" r="4.7"/><circle cx="538.0" cy="536.5" r="4.7"/><circle cx="539.3" cy="533.4" r="4.7"/><circle cx="540.7" cy="534.2" r="4.7"/><circle cx="542.0" cy="534.3" r="4.7"/><circle cx="543.4" cy="533.3" r="4.7"/><circle cx="544.7" cy="535.3" r="4.7"/><circle cx="546.1" cy="532.9" r="4.7"/><circle cx="547.4" cy="534.4" r="4.7"/><circle cx="548.8" cy="533.5" r="4.7"/><circle cx="550.1" cy="531.1" r="4.7"/><circle cx="551.5" cy="531.7" r="4.7"/><circle cx="552.8" cy="532.3" r="4.7"/><circle cx="554.2" cy="529.9" r="4.7"/><circle cx="555.5" cy="530.0" r="4.7"/><circle cx="556.9" cy="528.8" r="4.7"/><circle cx="558.2" cy="529.1" r="4.7"/><circle cx="559.6" cy="528.1" r="4.7"/><circle cx="560.9" cy="528.0" r="4.7"/><circle cx="562.3" cy="528.5" r="4.7"/><circle cx="563.6" cy="528.4" r="4.7"/><circle cx="565.0" cy="526.3" r="4.7"/><circle cx="566.3" cy="525.8" r="4.7"/><circle cx="567.7" cy="526.0" r="4.7"/><circle cx="569.0" cy="524.0" r="4.7"/><circle cx="570.4" cy="522.4" r="4.7"/><circle cx="571.7" cy="524.5" r="4.7"/><circle cx="573.1" cy="521.4" r="4.7"/><circle cx="574.4" cy="523.1" r="4.7"/><circle cx="575.8" cy="520.1" r="4.7"/><circle cx="577.1" cy="523.0" r="4.7"/><circle cx="578.5" cy="518.8" r="4.7"/><circle cx="579.8" cy="520.6" r="4.7"/><circle cx="581.2" cy="520.8" r="4.7"/><circle cx="582.5" cy="517.1" r="4.7"/><circle cx="583.9" cy="519.6" r="4.7"/><circle cx="585.2" cy="516.1" r="4.7"/><circle cx="586.6" cy="514.3" r="4.7"/><circle cx="587.9" cy="516.8" r="4.7"/><circle cx="589.3" cy="516.3" r="4.7"/><circle cx="590.6" cy="514.6" r="4.7"/><circle cx="592.0" cy="511.1" r="4.7"/><circle cx="593.3" cy="513.7" r="4.7"/><circle cx="594.7" cy="512.8" r="4.7"/><circle cx="596.0" cy="512.2" r="4.7"/><circle cx="597.4" cy="511.8" r="4.7"/><circle cx="598.7" cy="509.3" r="4.7"/><circle cx="600.1" cy="510.3" r="4.7"/><circle cx="601.4" cy="512.9" r="4.7"/><circle cx="602.8" cy="512.0" r="4.7"/><circle cx="604.1" cy="509.0" r="4.7"/><circle cx="605.5" cy="508.0" r="4.7"/><circle cx="606.8" cy="509.0" r="4.7"/><circle cx="608.2" cy="509.4" r="4.7"/><circle cx="609.5" cy="508.4" r="4.7"/><circle cx="610.9" cy="505.4" r="4.7"/><circle cx="612.2" cy="506.7" r="4.7"/><circle cx="613.6" cy="506.1" r="4.7"/><circle cx="614.9" cy="507.4" r="4.7"/><circle cx="616.3" cy="506.5" r="4.7"/><circle cx="617.6" cy="505.0" r="4.7"/><circle cx="619.0" cy="505.3" r="4.7"/><circle cx="620.3" cy="502.5" r="4.7"/><circle cx="621.7" cy="504.5" r="4.7"/><circle cx="623.0" cy="501.2" r="4.7"/><circle cx="624.4" cy="501.6" r="4.7"/><circle cx="625.7" cy="501.7" r="4.7"/><circle cx="627.1" cy="498.5" r="4.7"/><circle cx="628.4" cy="498.2" r="4.7"/><circle cx="629.8" cy="496.1" r="4.7"/><circle cx="631.1" cy="498.1" r="4.7"/><circle cx="632.5" cy="497.0" r="4.7"/><circle cx="633.8" cy="495.9" r="4.7"/><circle cx="635.2" cy="496.3" r="4.7"/><circle cx="636.5" cy="491.9" r="4.7"/><circle cx="637.9" cy="494.1" r="4.7"/><circle cx="639.2" cy="493.5" r="4.7"/><circle cx="640.6" cy="492.3" r="4.7"/><circle cx="641.9" cy="493.0" r="4.7"/><circle cx="643.3" cy="493.7" r="4.7"/><circle cx="644.6" cy="489.8" r="4.7"/><circle cx="646.0" cy="488.2" r="4.7"/><circle cx="647.3" cy="487.5" r="4.7"/><circle cx="648.7" cy="487.3" r="4.7"/><circle cx="650.0" cy="486.8" r="4.7"/><circle cx="651.4" cy="483.5" r="4.7"/><circle cx="652.7" cy="485.3" r="4.7"/><circle cx="654.1" cy="481.6" r="4.7"/><circle cx="655.4" cy="483.5" r="4.7"/><circle cx="656.8" cy="482.1" r="4.7"/><circle cx="658.1" cy="481.4" r="4.7"/><circle cx="659.5" cy="483.1" r="4.7"/><circle cx="660.8" cy="478.7" r="4.7"/><circle cx="662.2" cy="478.0" r="4.7"/><circle cx="663.5" cy="478.2" r="4.7"/><circle cx="664.9" cy="478.0" r="4.7"/><circle cx="666.2" cy="473.9" r="4.7"/><circle cx="667.6" cy="475.5" r="4.7"/><circle cx="668.9" cy="473.2" r="4.7"/><circle cx="670.3" cy="474.5" r="4.7"/><circle cx="671.6" cy="474.8" r="4.7"/><circle cx="673.0" cy="472.0" r="4.7"/><circle cx="674.3" cy="471.0" r="4.7"/><circle cx="675.7" cy="470.7" r="4.7"/><circle cx="677.0" cy="465.6" r="4.7"/><circle cx="678.4" cy="470.3" r="4.7"/><circle cx="679.7" cy="469.2" r="4.7"/><circle cx="681.1" cy="467.9" r="4.7"/><circle cx="682.4" cy="466.3" r="4.7"/><circle cx="683.8" cy="465.1" r="4.7"/><circle cx="685.1" cy="465.3" r="4.7"/><circle cx="686.5" cy="466.7" r="4.7"/><circle cx="687.8" cy="463.7" r="4.7"/><circle cx="689.2" cy="465.1" r="4.7"/><circle cx="690.5" cy="457.9" r="4.7"/><circle cx="691.9" cy="460.3" r="4.7"/><circle cx="693.2" cy="460.6" r="4.7"/><circle cx="694.6" cy="459.2" r="4.7"/><circle cx="695.9" cy="455.6" r="4.7"/><circle cx="697.3" cy="456.2" r="4.7"/><circle cx="698.6" cy="458.2" r="4.7"/><circle cx="700.0" cy="452.7" r="4.7"/><circle cx="701.3" cy="451.9" r="4.7"/><circle cx="702.7" cy="450.4" r="4.7"/><circle cx="704.0" cy="450.0" r="4.7"/><circle cx="705.4" cy="450.7" r="4.7"/><circle cx="706.7" cy="449.2" r="4.7"/><circle cx="708.1" cy="443.3" r="4.7"/><circle cx="709.4" cy="447.6" r="4.7"/><circle cx="710.8" cy="442.8" r="4.7"/><circle cx="712.1" cy="441.7" r="4.7"/><circle cx="713.5" cy="444.3" r="4.7"/><circle cx="714.8" cy="441.4" r="4.7"/><circle cx="716.2" cy="440.2" r="4.7"/><circle cx="717.5" cy="442.1" r="4.7"/><circle cx="718.9" cy="443.1" r="4.7"/><circle cx="720.2" cy="443.9" r="4.7"/><circle cx="721.6" cy="446.4" r="4.7"/><circle cx="722.9" cy="449.0" r="4.7"/><circle cx="724.3" cy="445.7" r="4.7"/><circle cx="725.6" cy="440.4" r="4.7"/><circle cx="727.0" cy="444.2" r="4.7"/><circle cx="728.3" cy="435.2" r="4.7"/><circle cx="729.7" cy="435.6" r="4.7"/><circle cx="731.0" cy="433.9" r="4.7"/><circle cx="732.4" cy="433.7" r="4.7"/><circle cx="733.7" cy="430.3" r="4.7"/><circle cx="735.1" cy="430.3" r="4.7"/><circle cx="736.4" cy="431.9" r="4.7"/><circle cx="737.8" cy="427.0" r="4.7"/><circle cx="739.1" cy="423.6" r="4.7"/><circle cx="740.5" cy="424.8" r="4.7"/><circle cx="741.8" cy="421.4" r="4.7"/><circle cx="743.2" cy="420.9" r="4.7"/><circle cx="744.5" cy="420.6" r="4.7"/><circle cx="745.9" cy="419.6" r="4.7"/><circle cx="747.2" cy="417.1" r="4.7"/><circle cx="748.6" cy="417.9" r="4.7"/><circle cx="749.9" cy="414.7" r="4.7"/><circle cx="751.3" cy="411.3" r="4.7"/><circle cx="752.6" cy="414.1" r="4.7"/><circle cx="754.0" cy="410.5" r="4.7"/><circle cx="755.3" cy="412.2" r="4.7"/><circle cx="756.7" cy="407.4" r="4.7"/><circle cx="758.0" cy="408.4" r="4.7"/><circle cx="759.4" cy="406.7" r="4.7"/><circle cx="760.7" cy="399.6" r="4.7"/><circle cx="762.1" cy="400.6" r="4.7"/><circle cx="763.4" cy="400.3" r="4.7"/><circle cx="764.8" cy="404.1" r="4.7"/><circle cx="766.1" cy="396.6" r="4.7"/><circle cx="767.5" cy="401.0" r="4.7"/><circle cx="768.8" cy="400.3" r="4.7"/><circle cx="770.2" cy="398.0" r="4.7"/><circle cx="771.5" cy="397.3" r="4.7"/><circle cx="772.9" cy="393.9" r="4.7"/><circle cx="774.2" cy="393.8" r="4.7"/><circle cx="775.6" cy="393.2" r="4.7"/><circle cx="776.9" cy="392.5" r="4.7"/><circle cx="778.3" cy="392.0" r="4.7"/><circle cx="779.6" cy="389.0" r="4.7"/><circle cx="781.0" cy="386.8" r="4.7"/><circle cx="782.3" cy="386.0" r="4.7"/><circle cx="783.7" cy="386.8" r="4.7"/><circle cx="785.0" cy="381.4" r="4.7"/><circle cx="786.4" cy="381.1" r="4.7"/><circle cx="787.7" cy="381.7" r="4.7"/><circle cx="789.1" cy="380.2" r="4.7"/><circle cx="790.4" cy="379.7" r="4.7"/><circle cx="791.8" cy="373.5" r="4.7"/><circle cx="793.1" cy="377.2" r="4.7"/><circle cx="794.5" cy="375.9" r="4.7"/><circle cx="795.8" cy="376.4" r="4.7"/><circle cx="797.2" cy="369.0" r="4.7"/><circle cx="798.5" cy="370.9" r="4.7"/><circle cx="799.9" cy="370.9" r="4.7"/><circle cx="801.2" cy="369.3" r="4.7"/><circle cx="802.6" cy="369.2" r="4.7"/><circle cx="803.9" cy="367.2" r="4.7"/><circle cx="805.3" cy="361.1" r="4.7"/><circle cx="806.6" cy="363.3" r="4.7"/><circle cx="808.0" cy="359.7" r="4.7"/><circle cx="809.3" cy="357.2" r="4.7"/><circle cx="810.7" cy="360.8" r="4.7"/><circle cx="812.0" cy="354.6" r="4.7"/><circle cx="813.4" cy="352.5" r="4.7"/><circle cx="814.7" cy="351.9" r="4.7"/><circle cx="816.1" cy="349.4" r="4.7"/><circle cx="817.6" cy="349.5" r="4.7"/><circle cx="766.8" cy="402.3" r="4.7"/><circle cx="723.0" cy="450.5" r="4.7"/><circle cx="714.5" cy="439.0" r="4.7"/><circle cx="819.1" cy="337.6" r="4.7"/><circle cx="820.3" cy="302.0" r="4.7"/><circle cx="821.6" cy="244.5" r="4.7"/><circle cx="823.3" cy="192.6" r="4.7"/><circle cx="825.9" cy="157.7" r="4.7"/><circle cx="825.1" cy="150.6" r="4.7"/><circle cx="829.0" cy="149.1" r="4.7"/><circle cx="830.6" cy="136.5" r="4.7"/><circle cx="831.6" cy="141.3" r="4.7"/><circle cx="832.3" cy="141.8" r="4.7"/><circle cx="833.2" cy="139.5" r="4.7"/><circle cx="834.1" cy="136.3" r="4.7"/><circle cx="834.6" cy="133.1" r="4.7"/><circle cx="835.7" cy="136.3" r="4.7"/><circle cx="836.4" cy="130.9" r="4.7"/><circle cx="837.1" cy="135.2" r="4.7"/><circle cx="837.9" cy="129.0" r="4.7"/><circle cx="838.7" cy="128.3" r="4.7"/><circle cx="840.2" cy="126.7" r="4.7"/><circle cx="841.3" cy="128.6" r="4.7"/><circle cx="842.0" cy="129.1" r="4.7"/><circle cx="843.0" cy="128.9" r="4.7"/><circle cx="844.1" cy="125.4" r="4.7"/><circle cx="845.2" cy="124.1" r="4.7"/><circle cx="846.3" cy="127.4" r="4.7"/><circle cx="847.6" cy="123.0" r="4.7"/><circle cx="848.7" cy="127.6" r="4.7"/><circle cx="849.6" cy="121.2" r="4.7"/><circle cx="850.9" cy="125.8" r="4.7"/><circle cx="851.7" cy="117.6" r="4.7"/><circle cx="853.3" cy="122.2" r="4.7"/><circle cx="854.9" cy="119.4" r="4.7"/><circle cx="856.4" cy="117.8" r="4.7"/><circle cx="857.5" cy="116.2" r="4.7"/><circle cx="858.3" cy="116.1" r="4.7"/><circle cx="859.6" cy="118.5" r="4.7"/><circle cx="861.3" cy="115.7" r="4.7"/><circle cx="862.9" cy="116.9" r="4.7"/><circle cx="863.5" cy="115.2" r="4.7"/><circle cx="865.2" cy="120.9" r="4.7"/><circle cx="866.0" cy="113.5" r="4.7"/><circle cx="867.7" cy="114.9" r="4.7"/><circle cx="869.1" cy="116.7" r="4.7"/><circle cx="870.1" cy="115.3" r="4.7"/><circle cx="871.7" cy="116.0" r="4.7"/><circle cx="872.7" cy="119.4" r="4.7"/><circle cx="874.0" cy="117.9" r="4.7"/><circle cx="875.4" cy="117.1" r="4.7"/><circle cx="877.1" cy="118.7" r="4.7"/><circle cx="878.2" cy="116.2" r="4.7"/><circle cx="879.9" cy="118.9" r="4.7"/><circle cx="881.7" cy="116.4" r="4.7"/><circle cx="882.5" cy="113.3" r="4.7"/><circle cx="883.9" cy="114.7" r="4.7"/><circle cx="885.2" cy="112.8" r="4.7"/><circle cx="887.0" cy="116.2" r="4.7"/><circle cx="888.0" cy="118.9" r="4.7"/><circle cx="889.3" cy="115.4" r="4.7"/><circle cx="890.6" cy="117.7" r="4.7"/><circle cx="892.6" cy="112.8" r="4.7"/><circle cx="893.8" cy="117.2" r="4.7"/><circle cx="894.8" cy="113.2" r="4.7"/><circle cx="896.4" cy="117.6" r="4.7"/><circle cx="897.5" cy="115.9" r="4.7"/><circle cx="899.2" cy="114.0" r="4.7"/><circle cx="900.5" cy="117.4" r="4.7"/><circle cx="901.6" cy="117.3" r="4.7"/><circle cx="903.1" cy="116.5" r="4.7"/><circle cx="904.8" cy="111.6" r="4.7"/><circle cx="906.2" cy="118.1" r="4.7"/><circle cx="907.1" cy="110.3" r="4.7"/><circle cx="908.3" cy="117.8" r="4.7"/><circle cx="909.6" cy="117.3" r="4.7"/><circle cx="911.1" cy="115.8" r="4.7"/><circle cx="912.4" cy="111.3" r="4.7"/><circle cx="914.2" cy="110.6" r="4.7"/><circle cx="915.3" cy="117.2" r="4.7"/><circle cx="917.0" cy="116.8" r="4.7"/><circle cx="918.6" cy="110.0" r="4.7"/><circle cx="919.3" cy="116.0" r="4.7"/><circle cx="921.1" cy="109.9" r="4.7"/><circle cx="922.3" cy="111.4" r="4.7"/><circle cx="923.6" cy="110.4" r="4.7"/><circle cx="924.6" cy="117.4" r="4.7"/><circle cx="926.3" cy="116.5" r="4.7"/><circle cx="927.5" cy="113.3" r="4.7"/><circle cx="928.9" cy="112.8" r="4.7"/><circle cx="930.3" cy="114.8" r="4.7"/><circle cx="931.7" cy="115.2" r="4.7"/><circle cx="933.4" cy="110.1" r="4.7"/><circle cx="934.7" cy="113.1" r="4.7"/><circle cx="936.5" cy="111.9" r="4.7"/><circle cx="937.4" cy="116.8" r="4.7"/><circle cx="939.0" cy="113.0" r="4.7"/><circle cx="836.1" cy="138.9" r="4.7"/><circle cx="837.7" cy="127.1" r="4.7"/><circle cx="844.0" cy="134.2" r="4.7"/><circle cx="848.7" cy="118.5" r="4.7"/><circle cx="851.8" cy="127.1" r="4.7"/><circle cx="860.4" cy="124.0" r="4.7"/><circle cx="864.4" cy="109.8" r="4.7"/><circle cx="869.1" cy="109.8" r="4.7"/><circle cx="871.4" cy="125.5" r="4.7"/><circle cx="876.9" cy="122.4" r="4.7"/><circle cx="881.6" cy="114.5" r="4.7"/><circle cx="887.1" cy="105.9" r="4.7"/><circle cx="890.3" cy="119.2" r="4.7"/><circle cx="895.8" cy="113.0" r="4.7"/><circle cx="900.5" cy="120.8" r="4.7"/><circle cx="905.2" cy="114.5" r="4.7"/><circle cx="912.2" cy="104.3" r="4.7"/><circle cx="910.7" cy="117.7" r="4.7"/><circle cx="917.7" cy="114.5" r="4.7"/><circle cx="924.0" cy="117.7" r="4.7"/><circle cx="928.7" cy="110.6" r="4.7"/><circle cx="934.2" cy="107.5" r="4.7"/><circle cx="935.8" cy="117.7" r="4.7"/><circle cx="938.9" cy="110.6" r="4.7"/></g>
<g stroke-width="0.9" stroke-dasharray="2.9 2" fill="none"><line x1="168.4" y1="140" x2="168.4" y2="599" stroke="#000"/><line x1="225.2" y1="118" x2="225.2" y2="597" stroke="#ED7D31"/><line x1="307.7" y1="150" x2="307.7" y2="598" stroke="#70AD47"/><line x1="822.4" y1="152" x2="822.4" y2="599" stroke="#5B9BD5"/></g><path d="M167.9,496.8 L179.8,486.7 L179.8,491.8 L200.3,491.8 L200.3,501.8 L179.8,501.8 L179.8,506.9 Z" fill="#000"/><path d="M222.8,463.4 L234.1,453.4 L234.1,458.4 L253.6,458.4 L253.6,468.4 L234.1,468.4 L234.1,473.4 Z" fill="#ED7D31"/><path d="M316.6,450.4 L327.2,440.3 L327.2,445.2 L346.9,445.2 L346.9,455.6 L327.2,455.6 L327.2,460.5 Z" fill="#70AD47"/><path d="M830.2,346.3 L840.2,337.2 L840.2,341.7 L860.5,341.7 L860.5,350.9 L840.2,350.9 L840.2,355.4 Z" fill="#5B9BD5" stroke="#41719C" stroke-width="1.2"/><g font-family="Liberation Sans, sans-serif" fill="#000" stroke="#000" stroke-width="0.55"><text transform="translate(96.3,609.1) scale(1.07,1)" text-anchor="end" font-size="23.5">0</text><text transform="translate(96.3,512.1) scale(1.07,1)" text-anchor="end" font-size="23.5">0,2</text><text transform="translate(96.3,415.1) scale(1.07,1)" text-anchor="end" font-size="23.5">0,4</text><text transform="translate(96.3,318.1) scale(1.07,1)" text-anchor="end" font-size="23.5">0,6</text><text transform="translate(96.3,221.1) scale(1.07,1)" text-anchor="end" font-size="23.5">0,8</text><text transform="translate(96.3,124.1) scale(1.07,1)" text-anchor="end" font-size="23.5">1</text><text transform="translate(96.3,27.1) scale(1.07,1)" text-anchor="end" font-size="23.5">1,2</text><text transform="translate(122.2,644.6) scale(1.07,1)" text-anchor="middle" font-size="23.5">0</text><text transform="translate(232.5,644.6) scale(1.07,1)" text-anchor="middle" font-size="23.5">2000</text><text transform="translate(342.8,644.6) scale(1.07,1)" text-anchor="middle" font-size="23.5">4000</text><text transform="translate(453.1,644.6) scale(1.07,1)" text-anchor="middle" font-size="23.5">6000</text><text transform="translate(563.4,644.6) scale(1.07,1)" text-anchor="middle" font-size="23.5">8000</text><text transform="translate(673.7,644.6) scale(1.07,1)" text-anchor="middle" font-size="23.5">10000</text><text transform="translate(784.0,644.6) scale(1.07,1)" text-anchor="middle" font-size="23.5">12000</text><text transform="translate(894.3,644.6) scale(1.07,1)" text-anchor="middle" font-size="23.5">14000</text><text x="536.6" y="686" text-anchor="middle" font-size="24.8" textLength="144.5" lengthAdjust="spacingAndGlyphs">Depth (nm)</text><text transform="translate(22.2,491.50) rotate(-90) scale(1.0486,1)" font-size="27.0" stroke-width="0.7">Normalized</text><text transform="translate(22.2,339.96) rotate(-90) scale(1.0789,1)" font-size="27.0" stroke-width="0.7">Intensity</text><text transform="translate(22.2,221.98) rotate(-90) scale(0.9376,1)" font-size="27.0" stroke-width="0.7">for</text><text transform="translate(22.2,180.10) rotate(-90) scale(0.8500,1)" font-size="27.0" stroke-width="0.7">B</text></g><g font-family="Liberation Sans, sans-serif"><circle cx="400.3" cy="9.8" r="4" fill="#000"/><text x="416.0" y="17.7" font-size="23.8" fill="#505050" stroke="#505050" stroke-width="0.45" letter-spacing="0">Exp A</text><circle cx="508.7" cy="9.8" r="4" fill="#ED7D31"/><text x="524.9" y="17.7" font-size="23.8" fill="#505050" stroke="#505050" stroke-width="0.45" letter-spacing="-0.5">Exp B</text><circle cx="616.4" cy="9.8" r="4" fill="#70AD47"/><text x="632.5" y="17.7" font-size="23.8" fill="#505050" stroke="#505050" stroke-width="0.45" letter-spacing="-0.5">Exp C</text><circle cx="724" cy="9.8" r="4" fill="#4472C4"/><text x="740.1" y="17.7" font-size="23.8" fill="#505050" stroke="#505050" stroke-width="0.45" letter-spacing="-0.5">Exp D</text></g></svg>
</body></html>
